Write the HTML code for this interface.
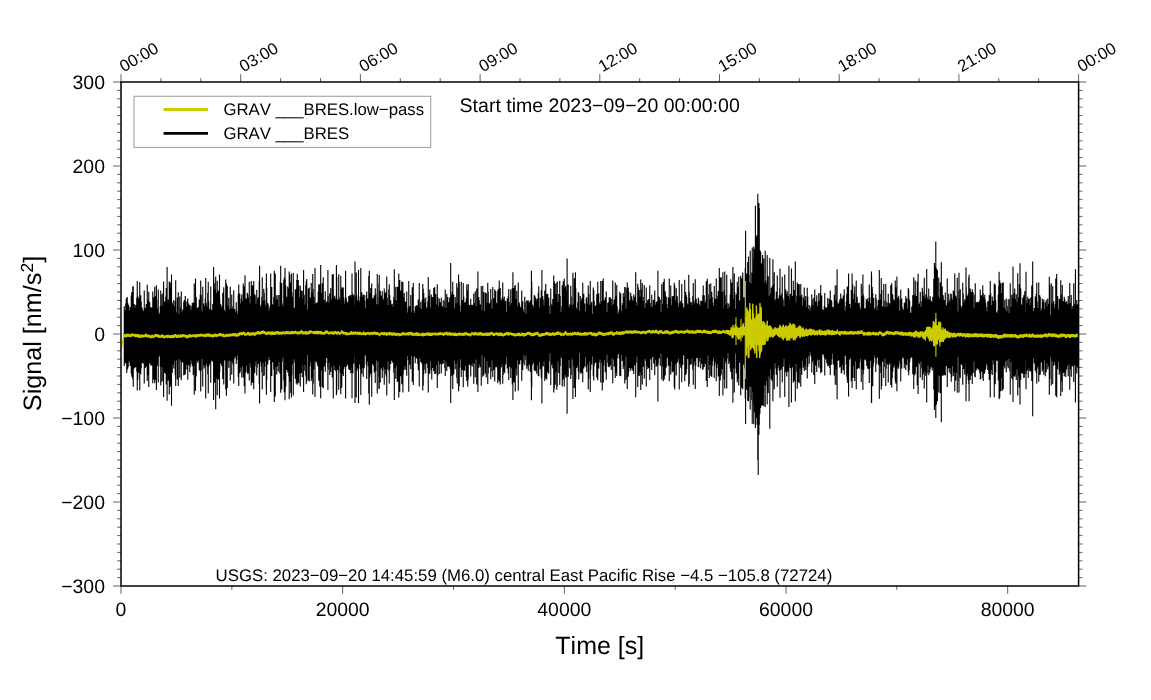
<!DOCTYPE html>
<html lang="en"><head><meta charset="utf-8"><title>GRAV BRES signal</title>
<style>
html,body{margin:0;padding:0;background:#fff;}
body{width:1151px;height:700px;overflow:hidden;}
svg{display:block;}
text{font-kerning:none;text-rendering:geometricPrecision;}
</style></head>
<body>
<svg width="1151" height="700" viewBox="0 0 1151 700" font-family='"Liberation Sans", sans-serif' fill="#000">
<rect x="0" y="0" width="1151" height="700" fill="#fff"/>
<path d="M123.70 306.2h1.1V366.1h-1.1zM124.20 311.4h1.1V362.2h-1.1zM124.70 310.6h1.1V359.1h-1.1zM125.20 303.5h1.1V363.5h-1.1zM125.70 298.8h1.1V361.5h-1.1zM126.20 298.0h1.1V373.1h-1.1zM126.70 297.1h1.1V369.7h-1.1zM127.20 302.9h1.1V368.5h-1.1zM127.70 304.4h1.1V366.8h-1.1zM128.20 305.4h1.1V361.0h-1.1zM128.70 316.6h1.1V357.2h-1.1zM129.20 310.5h1.1V362.8h-1.1zM129.70 307.1h1.1V366.1h-1.1zM130.20 316.5h1.1V352.1h-1.1zM130.70 295.6h1.1V373.6h-1.1zM131.20 291.9h1.1V376.7h-1.1zM131.70 307.0h1.1V362.8h-1.1zM132.20 286.2h1.1V379.3h-1.1zM132.70 286.5h1.1V386.8h-1.1zM133.20 304.9h1.1V366.9h-1.1zM133.70 303.9h1.1V368.5h-1.1zM134.20 314.3h1.1V356.0h-1.1zM134.70 307.5h1.1V367.5h-1.1zM135.20 305.1h1.1V367.0h-1.1zM135.70 304.7h1.1V358.3h-1.1zM136.20 297.4h1.1V371.7h-1.1zM136.70 281.0h1.1V390.4h-1.1zM137.20 295.9h1.1V379.7h-1.1zM137.70 310.4h1.1V360.6h-1.1zM138.20 298.0h1.1V372.9h-1.1zM138.70 304.3h1.1V365.5h-1.1zM139.20 282.2h1.1V390.2h-1.1zM139.70 314.0h1.1V357.0h-1.1zM140.20 295.3h1.1V374.3h-1.1zM140.70 301.4h1.1V368.2h-1.1zM141.20 315.4h1.1V358.0h-1.1zM141.70 307.7h1.1V363.0h-1.1zM142.20 314.6h1.1V354.1h-1.1zM142.70 310.4h1.1V363.6h-1.1zM143.20 312.4h1.1V358.3h-1.1zM143.70 290.5h1.1V383.5h-1.1zM144.20 308.4h1.1V365.0h-1.1zM144.70 307.7h1.1V368.1h-1.1zM145.20 315.3h1.1V359.3h-1.1zM145.70 304.0h1.1V366.6h-1.1zM146.20 308.7h1.1V363.2h-1.1zM146.70 284.8h1.1V381.0h-1.1zM147.20 302.7h1.1V375.3h-1.1zM147.70 300.5h1.1V373.4h-1.1zM148.20 291.7h1.1V386.9h-1.1zM148.70 312.0h1.1V359.6h-1.1zM149.20 302.1h1.1V363.3h-1.1zM149.70 316.9h1.1V358.4h-1.1zM150.20 307.0h1.1V365.6h-1.1zM150.70 307.4h1.1V365.4h-1.1zM151.20 308.1h1.1V364.4h-1.1zM151.70 308.9h1.1V365.2h-1.1zM152.20 291.5h1.1V383.2h-1.1zM152.70 303.6h1.1V363.6h-1.1zM153.20 297.2h1.1V379.4h-1.1zM153.70 302.6h1.1V368.0h-1.1zM154.20 286.7h1.1V383.3h-1.1zM154.70 316.4h1.1V359.4h-1.1zM155.20 296.0h1.1V380.1h-1.1zM155.70 308.7h1.1V362.7h-1.1zM156.20 299.4h1.1V366.1h-1.1zM156.70 313.4h1.1V359.4h-1.1zM157.20 308.5h1.1V365.4h-1.1zM157.70 289.4h1.1V382.6h-1.1zM158.20 312.5h1.1V356.9h-1.1zM158.70 315.5h1.1V355.2h-1.1zM159.20 314.1h1.1V355.5h-1.1zM159.70 306.2h1.1V366.8h-1.1zM160.20 290.6h1.1V385.5h-1.1zM160.70 294.4h1.1V382.3h-1.1zM161.20 314.8h1.1V356.0h-1.1zM161.70 305.8h1.1V367.3h-1.1zM162.20 293.4h1.1V381.3h-1.1zM162.70 313.5h1.1V357.7h-1.1zM163.20 307.8h1.1V364.2h-1.1zM163.70 306.1h1.1V372.7h-1.1zM164.20 301.4h1.1V371.7h-1.1zM164.70 302.4h1.1V373.0h-1.1zM165.20 296.7h1.1V374.0h-1.1zM165.70 288.0h1.1V384.5h-1.1zM166.20 313.2h1.1V355.3h-1.1zM166.70 303.7h1.1V368.5h-1.1zM167.20 305.5h1.1V370.5h-1.1zM167.70 299.6h1.1V380.4h-1.1zM168.20 310.0h1.1V365.5h-1.1zM168.70 281.5h1.1V394.6h-1.1zM169.20 301.1h1.1V371.5h-1.1zM169.70 282.4h1.1V386.7h-1.1zM170.20 287.8h1.1V383.8h-1.1zM170.70 316.0h1.1V357.6h-1.1zM171.20 307.9h1.1V362.3h-1.1zM171.70 302.5h1.1V373.0h-1.1zM172.20 304.8h1.1V364.5h-1.1zM172.70 312.9h1.1V355.3h-1.1zM173.20 300.1h1.1V368.6h-1.1zM173.70 306.2h1.1V361.2h-1.1zM174.20 308.4h1.1V360.2h-1.1zM174.70 301.1h1.1V375.3h-1.1zM175.20 306.5h1.1V365.3h-1.1zM175.70 312.6h1.1V360.3h-1.1zM176.20 316.9h1.1V357.7h-1.1zM176.70 297.6h1.1V379.6h-1.1zM177.20 318.1h1.1V353.4h-1.1zM177.70 292.2h1.1V386.0h-1.1zM178.20 314.0h1.1V359.3h-1.1zM178.70 315.0h1.1V357.4h-1.1zM179.20 296.5h1.1V377.7h-1.1zM179.70 307.6h1.1V360.7h-1.1zM180.20 315.1h1.1V355.6h-1.1zM180.70 291.5h1.1V380.3h-1.1zM181.20 311.7h1.1V362.2h-1.1zM181.70 314.6h1.1V356.9h-1.1zM182.20 309.5h1.1V362.5h-1.1zM182.70 313.5h1.1V361.1h-1.1zM183.20 302.0h1.1V375.2h-1.1zM183.70 300.1h1.1V375.0h-1.1zM184.20 304.5h1.1V371.9h-1.1zM184.70 296.1h1.1V374.6h-1.1zM185.20 301.8h1.1V369.5h-1.1zM185.70 315.8h1.1V357.0h-1.1zM186.20 306.6h1.1V364.7h-1.1zM186.70 300.9h1.1V369.4h-1.1zM187.20 298.5h1.1V379.7h-1.1zM187.70 315.8h1.1V355.8h-1.1zM188.20 303.6h1.1V365.2h-1.1zM188.70 316.7h1.1V356.1h-1.1zM189.20 305.2h1.1V372.2h-1.1zM189.70 305.3h1.1V366.7h-1.1zM190.20 313.8h1.1V360.6h-1.1zM190.70 310.0h1.1V360.5h-1.1zM191.20 306.3h1.1V363.7h-1.1zM191.70 302.9h1.1V366.3h-1.1zM192.20 313.1h1.1V358.0h-1.1zM192.70 302.4h1.1V375.1h-1.1zM193.20 314.3h1.1V354.5h-1.1zM193.70 283.5h1.1V394.7h-1.1zM194.20 302.7h1.1V365.1h-1.1zM194.70 304.8h1.1V365.6h-1.1zM195.20 315.2h1.1V357.6h-1.1zM195.70 297.0h1.1V376.4h-1.1zM196.20 310.8h1.1V360.8h-1.1zM196.70 308.1h1.1V358.2h-1.1zM197.20 308.9h1.1V362.8h-1.1zM197.70 307.0h1.1V360.8h-1.1zM198.20 315.7h1.1V360.1h-1.1zM198.70 299.6h1.1V370.2h-1.1zM199.20 301.5h1.1V369.7h-1.1zM199.70 294.4h1.1V371.4h-1.1zM200.20 280.5h1.1V387.4h-1.1zM200.70 294.9h1.1V370.4h-1.1zM201.20 313.6h1.1V359.1h-1.1zM201.70 311.5h1.1V358.4h-1.1zM202.20 286.8h1.1V386.4h-1.1zM202.70 306.1h1.1V362.3h-1.1zM203.20 303.4h1.1V365.5h-1.1zM203.70 305.9h1.1V368.4h-1.1zM204.20 307.4h1.1V360.4h-1.1zM204.70 298.5h1.1V365.3h-1.1zM205.20 315.1h1.1V356.2h-1.1zM205.70 303.0h1.1V363.8h-1.1zM206.20 306.6h1.1V362.6h-1.1zM206.70 306.8h1.1V366.2h-1.1zM207.20 292.8h1.1V374.2h-1.1zM207.70 281.8h1.1V393.3h-1.1zM208.20 301.5h1.1V366.6h-1.1zM208.70 309.4h1.1V364.8h-1.1zM209.20 310.6h1.1V363.1h-1.1zM209.70 308.7h1.1V360.4h-1.1zM210.20 286.6h1.1V382.8h-1.1zM210.70 313.3h1.1V355.3h-1.1zM211.20 310.1h1.1V360.7h-1.1zM211.70 312.3h1.1V360.7h-1.1zM212.20 304.1h1.1V361.7h-1.1zM212.70 313.3h1.1V359.0h-1.1zM213.20 279.3h1.1V383.7h-1.1zM213.70 283.2h1.1V382.6h-1.1zM214.20 289.2h1.1V372.9h-1.1zM214.70 296.2h1.1V382.3h-1.1zM215.20 296.0h1.1V374.5h-1.1zM215.70 292.7h1.1V378.6h-1.1zM216.20 304.9h1.1V363.3h-1.1zM216.70 280.7h1.1V395.2h-1.1zM217.20 305.4h1.1V358.6h-1.1zM217.70 291.0h1.1V379.4h-1.1zM218.20 307.4h1.1V369.0h-1.1zM218.70 289.2h1.1V379.3h-1.1zM219.20 298.2h1.1V372.1h-1.1zM219.70 314.0h1.1V357.7h-1.1zM220.20 304.2h1.1V363.5h-1.1zM220.70 310.2h1.1V360.1h-1.1zM221.20 306.9h1.1V366.0h-1.1zM221.70 305.8h1.1V365.0h-1.1zM222.20 292.8h1.1V379.0h-1.1zM222.70 304.9h1.1V364.3h-1.1zM223.20 287.3h1.1V384.4h-1.1zM223.70 309.8h1.1V360.5h-1.1zM224.20 314.7h1.1V358.5h-1.1zM224.70 311.3h1.1V360.6h-1.1zM225.20 279.4h1.1V389.5h-1.1zM225.70 298.9h1.1V362.4h-1.1zM226.20 298.2h1.1V374.5h-1.1zM226.70 285.8h1.1V388.0h-1.1zM227.20 305.9h1.1V361.3h-1.1zM227.70 309.4h1.1V355.3h-1.1zM228.20 297.8h1.1V367.7h-1.1zM228.70 311.2h1.1V360.6h-1.1zM229.20 309.3h1.1V357.6h-1.1zM229.70 286.8h1.1V380.5h-1.1zM230.20 308.6h1.1V361.4h-1.1zM230.70 312.0h1.1V360.2h-1.1zM231.20 294.5h1.1V374.7h-1.1zM231.70 306.6h1.1V362.3h-1.1zM232.20 308.9h1.1V358.8h-1.1zM232.70 308.7h1.1V364.5h-1.1zM233.20 290.2h1.1V383.5h-1.1zM233.70 309.7h1.1V359.0h-1.1zM234.20 309.1h1.1V356.2h-1.1zM234.70 312.8h1.1V354.3h-1.1zM235.20 312.2h1.1V357.8h-1.1zM235.70 302.2h1.1V364.0h-1.1zM236.20 310.7h1.1V360.0h-1.1zM236.70 313.7h1.1V355.5h-1.1zM237.20 314.3h1.1V354.7h-1.1zM237.70 294.2h1.1V376.7h-1.1zM238.20 284.6h1.1V386.1h-1.1zM238.70 306.9h1.1V358.9h-1.1zM239.20 293.6h1.1V373.2h-1.1zM239.70 303.4h1.1V371.8h-1.1zM240.20 312.9h1.1V352.5h-1.1zM240.70 298.8h1.1V367.4h-1.1zM241.20 294.6h1.1V377.5h-1.1zM241.70 300.9h1.1V366.4h-1.1zM242.20 305.5h1.1V360.0h-1.1zM242.70 283.6h1.1V377.5h-1.1zM243.20 298.8h1.1V370.9h-1.1zM243.70 286.4h1.1V386.2h-1.1zM244.20 305.6h1.1V366.1h-1.1zM244.70 309.3h1.1V358.5h-1.1zM245.20 298.7h1.1V372.7h-1.1zM245.70 298.5h1.1V365.5h-1.1zM246.20 302.7h1.1V365.5h-1.1zM246.70 292.7h1.1V372.1h-1.1zM247.20 294.2h1.1V374.1h-1.1zM247.70 297.2h1.1V373.1h-1.1zM248.20 300.8h1.1V370.3h-1.1zM248.70 281.7h1.1V380.6h-1.1zM249.20 307.4h1.1V363.5h-1.1zM249.70 303.4h1.1V362.6h-1.1zM250.20 296.0h1.1V367.6h-1.1zM250.70 281.0h1.1V385.5h-1.1zM251.20 307.4h1.1V356.2h-1.1zM251.70 285.6h1.1V381.8h-1.1zM252.20 285.7h1.1V383.0h-1.1zM252.70 285.3h1.1V381.0h-1.1zM253.20 280.9h1.1V389.2h-1.1zM253.70 310.9h1.1V355.7h-1.1zM254.20 294.3h1.1V373.0h-1.1zM254.70 295.6h1.1V366.2h-1.1zM255.20 308.6h1.1V358.6h-1.1zM255.70 303.7h1.1V360.9h-1.1zM256.20 289.7h1.1V375.4h-1.1zM256.70 299.2h1.1V367.6h-1.1zM257.20 309.9h1.1V357.6h-1.1zM257.70 297.3h1.1V363.8h-1.1zM258.20 305.5h1.1V357.2h-1.1zM258.70 281.3h1.1V384.1h-1.1zM259.20 305.7h1.1V362.6h-1.1zM259.70 306.7h1.1V361.3h-1.1zM260.20 307.9h1.1V361.3h-1.1zM260.70 304.4h1.1V366.3h-1.1zM261.20 296.7h1.1V372.0h-1.1zM261.70 277.2h1.1V389.5h-1.1zM262.20 300.5h1.1V362.9h-1.1zM262.70 305.9h1.1V358.3h-1.1zM263.20 288.8h1.1V375.9h-1.1zM263.70 292.7h1.1V375.2h-1.1zM264.20 300.6h1.1V366.8h-1.1zM264.70 305.5h1.1V361.2h-1.1zM265.20 309.4h1.1V356.9h-1.1zM265.70 282.3h1.1V387.5h-1.1zM266.20 287.8h1.1V379.8h-1.1zM266.70 306.4h1.1V361.0h-1.1zM267.20 302.9h1.1V364.6h-1.1zM267.70 304.6h1.1V360.4h-1.1zM268.20 312.8h1.1V351.6h-1.1zM268.70 310.6h1.1V357.0h-1.1zM269.20 307.4h1.1V360.1h-1.1zM269.70 305.5h1.1V360.3h-1.1zM270.20 296.1h1.1V368.8h-1.1zM270.70 302.4h1.1V371.0h-1.1zM271.20 286.9h1.1V375.9h-1.1zM271.70 304.9h1.1V360.8h-1.1zM272.20 304.8h1.1V362.2h-1.1zM272.70 304.0h1.1V358.9h-1.1zM273.20 297.1h1.1V369.5h-1.1zM273.70 295.1h1.1V378.0h-1.1zM274.20 296.3h1.1V373.3h-1.1zM274.70 273.5h1.1V396.4h-1.1zM275.20 306.9h1.1V360.8h-1.1zM275.70 299.4h1.1V367.1h-1.1zM276.20 295.2h1.1V374.5h-1.1zM276.70 299.5h1.1V366.0h-1.1zM277.20 303.7h1.1V361.1h-1.1zM277.70 295.0h1.1V371.4h-1.1zM278.20 306.4h1.1V362.0h-1.1zM278.70 309.1h1.1V357.6h-1.1zM279.20 295.1h1.1V373.3h-1.1zM279.70 281.9h1.1V373.7h-1.1zM280.20 304.5h1.1V364.8h-1.1zM280.70 311.9h1.1V358.9h-1.1zM281.20 282.9h1.1V389.6h-1.1zM281.70 303.4h1.1V361.5h-1.1zM282.20 306.1h1.1V357.4h-1.1zM282.70 309.1h1.1V357.3h-1.1zM283.20 280.2h1.1V380.4h-1.1zM283.70 277.5h1.1V392.2h-1.1zM284.20 311.6h1.1V352.9h-1.1zM284.70 279.6h1.1V391.2h-1.1zM285.20 285.5h1.1V386.6h-1.1zM285.70 299.9h1.1V359.1h-1.1zM286.20 296.7h1.1V369.9h-1.1zM286.70 304.1h1.1V359.5h-1.1zM287.20 286.6h1.1V372.5h-1.1zM287.70 308.7h1.1V355.3h-1.1zM288.20 288.3h1.1V376.2h-1.1zM288.70 304.5h1.1V363.9h-1.1zM289.20 274.6h1.1V382.0h-1.1zM289.70 297.4h1.1V371.8h-1.1zM290.20 282.5h1.1V393.0h-1.1zM290.70 292.5h1.1V375.4h-1.1zM291.20 292.4h1.1V375.2h-1.1zM291.70 303.4h1.1V362.0h-1.1zM292.20 296.8h1.1V364.3h-1.1zM292.70 273.0h1.1V395.5h-1.1zM293.20 311.7h1.1V354.4h-1.1zM293.70 307.8h1.1V359.3h-1.1zM294.20 308.7h1.1V362.8h-1.1zM294.70 289.6h1.1V378.8h-1.1zM295.20 295.0h1.1V371.8h-1.1zM295.70 288.7h1.1V383.4h-1.1zM296.20 280.1h1.1V378.0h-1.1zM296.70 273.7h1.1V384.8h-1.1zM297.20 298.0h1.1V365.9h-1.1zM297.70 279.9h1.1V381.8h-1.1zM298.20 285.2h1.1V383.2h-1.1zM298.70 306.9h1.1V357.4h-1.1zM299.20 297.5h1.1V373.7h-1.1zM299.70 285.8h1.1V386.4h-1.1zM300.20 302.0h1.1V365.4h-1.1zM300.70 290.4h1.1V373.0h-1.1zM301.20 298.5h1.1V368.6h-1.1zM301.70 291.1h1.1V377.3h-1.1zM302.20 298.2h1.1V363.1h-1.1zM302.70 300.9h1.1V365.1h-1.1zM303.20 298.6h1.1V368.6h-1.1zM303.70 294.9h1.1V370.8h-1.1zM304.20 304.6h1.1V364.6h-1.1zM304.70 307.1h1.1V360.8h-1.1zM305.20 285.3h1.1V375.6h-1.1zM305.70 281.2h1.1V384.2h-1.1zM306.20 278.9h1.1V381.4h-1.1zM306.70 310.9h1.1V355.1h-1.1zM307.20 309.4h1.1V353.3h-1.1zM307.70 288.6h1.1V380.2h-1.1zM308.20 310.5h1.1V355.1h-1.1zM308.70 287.4h1.1V381.6h-1.1zM309.20 297.8h1.1V366.3h-1.1zM309.70 297.6h1.1V362.0h-1.1zM310.20 308.3h1.1V360.6h-1.1zM310.70 282.9h1.1V380.9h-1.1zM311.20 292.2h1.1V378.1h-1.1zM311.70 300.1h1.1V366.0h-1.1zM312.20 274.1h1.1V394.6h-1.1zM312.70 288.9h1.1V383.8h-1.1zM313.20 296.8h1.1V369.2h-1.1zM313.70 307.3h1.1V361.0h-1.1zM314.20 304.0h1.1V356.6h-1.1zM314.70 305.8h1.1V361.4h-1.1zM315.20 304.0h1.1V360.2h-1.1zM315.70 302.9h1.1V361.7h-1.1zM316.20 306.5h1.1V358.5h-1.1zM316.70 302.3h1.1V363.7h-1.1zM317.20 303.5h1.1V366.3h-1.1zM317.70 291.8h1.1V365.7h-1.1zM318.20 284.4h1.1V380.8h-1.1zM318.70 304.0h1.1V359.0h-1.1zM319.20 284.2h1.1V386.4h-1.1zM319.70 308.7h1.1V355.4h-1.1zM320.20 300.2h1.1V366.4h-1.1zM320.70 292.9h1.1V370.7h-1.1zM321.20 309.4h1.1V357.3h-1.1zM321.70 283.3h1.1V386.9h-1.1zM322.20 298.3h1.1V365.6h-1.1zM322.70 277.2h1.1V388.3h-1.1zM323.20 310.6h1.1V351.5h-1.1zM323.70 299.7h1.1V366.6h-1.1zM324.20 305.2h1.1V362.5h-1.1zM324.70 291.2h1.1V371.8h-1.1zM325.20 305.1h1.1V363.3h-1.1zM325.70 303.0h1.1V356.2h-1.1zM326.20 301.5h1.1V358.1h-1.1zM326.70 310.1h1.1V352.2h-1.1zM327.20 296.3h1.1V367.4h-1.1zM327.70 295.7h1.1V369.8h-1.1zM328.20 302.8h1.1V362.5h-1.1zM328.70 306.3h1.1V359.0h-1.1zM329.20 293.2h1.1V375.1h-1.1zM329.70 302.3h1.1V361.8h-1.1zM330.20 287.9h1.1V372.0h-1.1zM330.70 299.3h1.1V362.1h-1.1zM331.20 304.5h1.1V367.0h-1.1zM331.70 274.4h1.1V377.5h-1.1zM332.20 303.7h1.1V361.5h-1.1zM332.70 273.9h1.1V398.6h-1.1zM333.20 310.5h1.1V356.2h-1.1zM333.70 297.4h1.1V365.4h-1.1zM334.20 295.7h1.1V370.0h-1.1zM334.70 303.6h1.1V364.7h-1.1zM335.20 298.8h1.1V371.1h-1.1zM335.70 303.8h1.1V359.4h-1.1zM336.20 276.8h1.1V393.2h-1.1zM336.70 299.7h1.1V367.0h-1.1zM337.20 299.6h1.1V369.9h-1.1zM337.70 309.6h1.1V359.5h-1.1zM338.20 274.2h1.1V389.7h-1.1zM338.70 297.1h1.1V363.6h-1.1zM339.20 301.5h1.1V365.7h-1.1zM339.70 299.5h1.1V372.4h-1.1zM340.20 275.7h1.1V394.2h-1.1zM340.70 300.5h1.1V366.2h-1.1zM341.20 288.8h1.1V387.8h-1.1zM341.70 287.2h1.1V374.1h-1.1zM342.20 307.9h1.1V360.4h-1.1zM342.70 287.4h1.1V376.1h-1.1zM343.20 297.2h1.1V369.1h-1.1zM343.70 304.4h1.1V362.0h-1.1zM344.20 303.4h1.1V367.1h-1.1zM344.70 299.6h1.1V363.3h-1.1zM345.20 305.7h1.1V359.0h-1.1zM345.70 297.5h1.1V363.0h-1.1zM346.20 301.3h1.1V366.4h-1.1zM346.70 306.1h1.1V358.8h-1.1zM347.20 302.8h1.1V364.7h-1.1zM347.70 301.9h1.1V360.9h-1.1zM348.20 295.9h1.1V369.0h-1.1zM348.70 299.8h1.1V369.9h-1.1zM349.20 295.6h1.1V370.0h-1.1zM349.70 304.4h1.1V363.7h-1.1zM350.20 295.1h1.1V373.2h-1.1zM350.70 297.6h1.1V367.4h-1.1zM351.20 304.6h1.1V357.3h-1.1zM351.70 298.6h1.1V371.2h-1.1zM352.20 293.8h1.1V373.3h-1.1zM352.70 306.5h1.1V362.6h-1.1zM353.20 295.2h1.1V363.6h-1.1zM353.70 307.1h1.1V355.1h-1.1zM354.20 305.3h1.1V355.2h-1.1zM354.70 297.2h1.1V366.1h-1.1zM355.20 303.8h1.1V365.8h-1.1zM355.70 272.6h1.1V397.4h-1.1zM356.20 295.5h1.1V370.9h-1.1zM356.70 307.6h1.1V359.3h-1.1zM357.20 300.4h1.1V368.6h-1.1zM357.70 300.0h1.1V365.6h-1.1zM358.20 302.7h1.1V365.1h-1.1zM358.70 303.0h1.1V364.0h-1.1zM359.20 300.6h1.1V358.9h-1.1zM359.70 296.5h1.1V368.7h-1.1zM360.20 286.6h1.1V386.5h-1.1zM360.70 292.3h1.1V372.8h-1.1zM361.20 292.3h1.1V373.8h-1.1zM361.70 296.8h1.1V367.7h-1.1zM362.20 312.6h1.1V353.2h-1.1zM362.70 294.5h1.1V376.7h-1.1zM363.20 297.3h1.1V368.5h-1.1zM363.70 295.1h1.1V367.8h-1.1zM364.20 300.6h1.1V356.0h-1.1zM364.70 310.7h1.1V354.8h-1.1zM365.20 308.6h1.1V353.4h-1.1zM365.70 295.3h1.1V364.6h-1.1zM366.20 291.4h1.1V378.9h-1.1zM366.70 308.5h1.1V360.2h-1.1zM367.20 298.6h1.1V361.6h-1.1zM367.70 303.4h1.1V366.2h-1.1zM368.20 276.1h1.1V393.5h-1.1zM368.70 308.0h1.1V357.0h-1.1zM369.20 293.2h1.1V376.8h-1.1zM369.70 298.7h1.1V362.7h-1.1zM370.20 287.9h1.1V373.7h-1.1zM370.70 296.7h1.1V365.1h-1.1zM371.20 306.9h1.1V357.3h-1.1zM371.70 306.9h1.1V362.6h-1.1zM372.20 298.2h1.1V364.2h-1.1zM372.70 305.3h1.1V358.6h-1.1zM373.20 297.8h1.1V365.9h-1.1zM373.70 295.3h1.1V372.6h-1.1zM374.20 300.0h1.1V366.1h-1.1zM374.70 288.2h1.1V382.9h-1.1zM375.20 293.5h1.1V370.9h-1.1zM375.70 304.0h1.1V359.5h-1.1zM376.20 305.4h1.1V360.5h-1.1zM376.70 274.0h1.1V393.5h-1.1zM377.20 304.6h1.1V360.0h-1.1zM377.70 306.7h1.1V361.5h-1.1zM378.20 297.6h1.1V376.4h-1.1zM378.70 274.9h1.1V389.1h-1.1zM379.20 303.5h1.1V364.0h-1.1zM379.70 290.7h1.1V382.5h-1.1zM380.20 302.6h1.1V362.8h-1.1zM380.70 295.6h1.1V368.6h-1.1zM381.20 302.5h1.1V361.6h-1.1zM381.70 291.3h1.1V377.9h-1.1zM382.20 298.5h1.1V370.8h-1.1zM382.70 299.7h1.1V367.3h-1.1zM383.20 302.3h1.1V365.3h-1.1zM383.70 288.5h1.1V384.8h-1.1zM384.20 311.6h1.1V357.9h-1.1zM384.70 292.7h1.1V369.1h-1.1zM385.20 293.5h1.1V374.1h-1.1zM385.70 291.6h1.1V376.4h-1.1zM386.20 276.4h1.1V395.4h-1.1zM386.70 297.7h1.1V369.2h-1.1zM387.20 306.2h1.1V359.8h-1.1zM387.70 304.9h1.1V361.5h-1.1zM388.20 289.2h1.1V370.6h-1.1zM388.70 284.2h1.1V383.4h-1.1zM389.20 295.2h1.1V370.3h-1.1zM389.70 306.6h1.1V362.5h-1.1zM390.20 300.3h1.1V364.1h-1.1zM390.70 311.2h1.1V355.7h-1.1zM391.20 304.5h1.1V360.5h-1.1zM391.70 303.7h1.1V360.9h-1.1zM392.20 307.1h1.1V362.7h-1.1zM392.70 306.8h1.1V359.8h-1.1zM393.20 297.0h1.1V372.6h-1.1zM393.70 294.0h1.1V369.4h-1.1zM394.20 299.9h1.1V368.3h-1.1zM394.70 301.3h1.1V361.1h-1.1zM395.20 286.8h1.1V378.8h-1.1zM395.70 300.4h1.1V365.9h-1.1zM396.20 305.1h1.1V364.5h-1.1zM396.70 286.7h1.1V382.0h-1.1zM397.20 287.1h1.1V379.9h-1.1zM397.70 290.4h1.1V381.1h-1.1zM398.20 296.2h1.1V372.4h-1.1zM398.70 313.9h1.1V355.3h-1.1zM399.20 280.1h1.1V391.9h-1.1zM399.70 291.8h1.1V375.9h-1.1zM400.20 290.5h1.1V376.2h-1.1zM400.70 302.4h1.1V366.7h-1.1zM401.20 281.5h1.1V384.3h-1.1zM401.70 302.2h1.1V367.0h-1.1zM402.20 291.0h1.1V381.8h-1.1zM402.70 296.9h1.1V374.2h-1.1zM403.20 309.6h1.1V357.5h-1.1zM403.70 293.0h1.1V369.7h-1.1zM404.20 306.3h1.1V361.7h-1.1zM404.70 301.6h1.1V366.1h-1.1zM405.20 301.9h1.1V369.8h-1.1zM405.70 310.5h1.1V356.8h-1.1zM406.20 291.5h1.1V375.7h-1.1zM406.70 313.4h1.1V356.3h-1.1zM407.20 312.5h1.1V354.6h-1.1zM407.70 307.4h1.1V360.3h-1.1zM408.20 280.9h1.1V391.7h-1.1zM408.70 307.3h1.1V364.9h-1.1zM409.20 305.9h1.1V364.1h-1.1zM409.70 309.4h1.1V359.4h-1.1zM410.20 295.0h1.1V369.3h-1.1zM410.70 314.4h1.1V354.9h-1.1zM411.20 312.3h1.1V356.0h-1.1zM411.70 287.3h1.1V381.8h-1.1zM412.20 298.9h1.1V367.5h-1.1zM412.70 283.0h1.1V385.1h-1.1zM413.20 310.8h1.1V357.0h-1.1zM413.70 313.1h1.1V355.9h-1.1zM414.20 315.6h1.1V355.3h-1.1zM414.70 306.1h1.1V363.2h-1.1zM415.20 307.3h1.1V356.5h-1.1zM415.70 307.6h1.1V358.1h-1.1zM416.20 305.1h1.1V358.5h-1.1zM416.70 314.4h1.1V352.4h-1.1zM417.20 306.0h1.1V363.9h-1.1zM417.70 299.5h1.1V370.2h-1.1zM418.20 304.0h1.1V362.5h-1.1zM418.70 283.0h1.1V386.6h-1.1zM419.20 308.5h1.1V357.9h-1.1zM419.70 307.9h1.1V356.8h-1.1zM420.20 301.8h1.1V362.0h-1.1zM420.70 311.4h1.1V355.1h-1.1zM421.20 309.1h1.1V362.9h-1.1zM421.70 299.5h1.1V364.2h-1.1zM422.20 284.1h1.1V390.4h-1.1zM422.70 288.7h1.1V385.7h-1.1zM423.20 293.0h1.1V374.5h-1.1zM423.70 298.4h1.1V369.8h-1.1zM424.20 302.4h1.1V364.0h-1.1zM424.70 313.5h1.1V354.9h-1.1zM425.20 297.5h1.1V373.3h-1.1zM425.70 312.5h1.1V355.9h-1.1zM426.20 307.5h1.1V363.5h-1.1zM426.70 311.3h1.1V359.8h-1.1zM427.20 301.2h1.1V368.3h-1.1zM427.70 277.0h1.1V392.5h-1.1zM428.20 309.6h1.1V358.7h-1.1zM428.70 296.1h1.1V373.5h-1.1zM429.20 289.5h1.1V373.8h-1.1zM429.70 309.8h1.1V359.6h-1.1zM430.20 307.6h1.1V361.3h-1.1zM430.70 294.6h1.1V370.3h-1.1zM431.20 296.9h1.1V379.4h-1.1zM431.70 313.8h1.1V352.6h-1.1zM432.20 297.0h1.1V368.1h-1.1zM432.70 307.9h1.1V361.2h-1.1zM433.20 288.1h1.1V371.2h-1.1zM433.70 310.2h1.1V356.3h-1.1zM434.20 287.0h1.1V374.0h-1.1zM434.70 303.8h1.1V361.6h-1.1zM435.20 294.1h1.1V373.7h-1.1zM435.70 304.5h1.1V364.8h-1.1zM436.20 311.0h1.1V359.9h-1.1zM436.70 284.3h1.1V387.9h-1.1zM437.20 297.1h1.1V375.6h-1.1zM437.70 309.0h1.1V360.8h-1.1zM438.20 305.7h1.1V361.3h-1.1zM438.70 298.4h1.1V373.9h-1.1zM439.20 306.2h1.1V360.8h-1.1zM439.70 302.3h1.1V364.1h-1.1zM440.20 311.4h1.1V360.5h-1.1zM440.70 297.7h1.1V373.5h-1.1zM441.20 308.8h1.1V360.1h-1.1zM441.70 306.3h1.1V364.2h-1.1zM442.20 308.5h1.1V362.1h-1.1zM442.70 300.2h1.1V363.5h-1.1zM443.20 308.2h1.1V359.9h-1.1zM443.70 307.6h1.1V357.6h-1.1zM444.20 300.5h1.1V368.3h-1.1zM444.70 289.4h1.1V375.9h-1.1zM445.20 314.5h1.1V356.6h-1.1zM445.70 307.9h1.1V361.8h-1.1zM446.20 293.9h1.1V371.1h-1.1zM446.70 308.3h1.1V360.0h-1.1zM447.20 297.1h1.1V366.7h-1.1zM447.70 302.6h1.1V365.9h-1.1zM448.20 311.3h1.1V358.3h-1.1zM448.70 302.1h1.1V367.1h-1.1zM449.20 297.4h1.1V363.8h-1.1zM449.70 298.0h1.1V369.0h-1.1zM450.20 283.4h1.1V387.4h-1.1zM450.70 294.7h1.1V374.8h-1.1zM451.20 296.8h1.1V375.8h-1.1zM451.70 291.7h1.1V371.1h-1.1zM452.20 281.8h1.1V389.1h-1.1zM452.70 302.5h1.1V363.7h-1.1zM453.20 294.4h1.1V374.6h-1.1zM453.70 308.4h1.1V361.0h-1.1zM454.20 313.1h1.1V356.8h-1.1zM454.70 296.9h1.1V369.2h-1.1zM455.20 304.8h1.1V364.1h-1.1zM455.70 303.5h1.1V361.3h-1.1zM456.20 283.2h1.1V377.8h-1.1zM456.70 287.4h1.1V383.4h-1.1zM457.20 312.0h1.1V356.3h-1.1zM457.70 302.7h1.1V360.5h-1.1zM458.20 309.8h1.1V356.5h-1.1zM458.70 282.3h1.1V386.0h-1.1zM459.20 305.3h1.1V367.5h-1.1zM459.70 311.5h1.1V359.3h-1.1zM460.20 311.5h1.1V358.7h-1.1zM460.70 281.7h1.1V377.1h-1.1zM461.20 303.8h1.1V364.2h-1.1zM461.70 300.0h1.1V369.9h-1.1zM462.20 308.9h1.1V360.5h-1.1zM462.70 283.1h1.1V387.3h-1.1zM463.20 296.6h1.1V370.8h-1.1zM463.70 310.0h1.1V362.6h-1.1zM464.20 302.6h1.1V370.4h-1.1zM464.70 302.2h1.1V365.8h-1.1zM465.20 314.7h1.1V351.8h-1.1zM465.70 298.5h1.1V377.1h-1.1zM466.20 284.4h1.1V381.0h-1.1zM466.70 300.7h1.1V371.7h-1.1zM467.20 290.2h1.1V386.5h-1.1zM467.70 284.0h1.1V379.5h-1.1zM468.20 304.7h1.1V364.4h-1.1zM468.70 314.2h1.1V353.5h-1.1zM469.20 305.0h1.1V364.9h-1.1zM469.70 306.6h1.1V362.7h-1.1zM470.20 298.7h1.1V376.5h-1.1zM470.70 304.8h1.1V365.3h-1.1zM471.20 308.7h1.1V359.6h-1.1zM471.70 305.2h1.1V366.4h-1.1zM472.20 309.7h1.1V358.0h-1.1zM472.70 304.4h1.1V362.8h-1.1zM473.20 293.6h1.1V383.8h-1.1zM473.70 305.1h1.1V360.9h-1.1zM474.20 303.1h1.1V363.7h-1.1zM474.70 291.2h1.1V377.2h-1.1zM475.20 305.9h1.1V359.4h-1.1zM475.70 310.2h1.1V353.1h-1.1zM476.20 288.5h1.1V384.6h-1.1zM476.70 304.3h1.1V361.7h-1.1zM477.20 308.4h1.1V358.6h-1.1zM477.70 301.0h1.1V366.1h-1.1zM478.20 296.9h1.1V367.8h-1.1zM478.70 300.1h1.1V364.5h-1.1zM479.20 304.2h1.1V364.6h-1.1zM479.70 307.4h1.1V367.3h-1.1zM480.20 304.6h1.1V365.9h-1.1zM480.70 286.1h1.1V385.7h-1.1zM481.20 310.2h1.1V354.6h-1.1zM481.70 313.2h1.1V355.2h-1.1zM482.20 285.7h1.1V376.8h-1.1zM482.70 296.1h1.1V375.2h-1.1zM483.20 291.9h1.1V375.4h-1.1zM483.70 311.1h1.1V357.4h-1.1zM484.20 312.7h1.1V355.5h-1.1zM484.70 292.4h1.1V373.4h-1.1zM485.20 299.0h1.1V363.9h-1.1zM485.70 293.2h1.1V377.4h-1.1zM486.20 302.7h1.1V361.3h-1.1zM486.70 313.1h1.1V352.8h-1.1zM487.20 282.8h1.1V383.9h-1.1zM487.70 291.7h1.1V373.6h-1.1zM488.20 303.1h1.1V366.0h-1.1zM488.70 303.9h1.1V367.5h-1.1zM489.20 308.6h1.1V360.4h-1.1zM489.70 301.9h1.1V367.0h-1.1zM490.20 289.1h1.1V379.2h-1.1zM490.70 299.6h1.1V371.6h-1.1zM491.20 315.2h1.1V349.7h-1.1zM491.70 308.7h1.1V360.5h-1.1zM492.20 286.9h1.1V377.0h-1.1zM492.70 309.9h1.1V355.4h-1.1zM493.20 298.3h1.1V370.0h-1.1zM493.70 309.3h1.1V358.1h-1.1zM494.20 289.3h1.1V381.5h-1.1zM494.70 311.7h1.1V359.2h-1.1zM495.20 291.0h1.1V367.2h-1.1zM495.70 302.4h1.1V365.7h-1.1zM496.20 306.9h1.1V366.8h-1.1zM496.70 303.6h1.1V367.4h-1.1zM497.20 291.2h1.1V383.2h-1.1zM497.70 289.0h1.1V379.7h-1.1zM498.20 297.4h1.1V365.6h-1.1zM498.70 280.5h1.1V381.6h-1.1zM499.20 294.7h1.1V376.4h-1.1zM499.70 288.1h1.1V384.6h-1.1zM500.20 302.6h1.1V363.4h-1.1zM500.70 299.7h1.1V367.6h-1.1zM501.20 305.2h1.1V363.9h-1.1zM501.70 297.3h1.1V364.5h-1.1zM502.20 282.5h1.1V383.8h-1.1zM502.70 299.0h1.1V375.0h-1.1zM503.20 308.8h1.1V365.1h-1.1zM503.70 296.4h1.1V371.5h-1.1zM504.20 301.1h1.1V373.3h-1.1zM504.70 308.8h1.1V358.2h-1.1zM505.20 301.1h1.1V364.5h-1.1zM505.70 312.1h1.1V351.3h-1.1zM506.20 313.0h1.1V357.4h-1.1zM506.70 298.4h1.1V368.6h-1.1zM507.20 308.5h1.1V365.9h-1.1zM507.70 296.3h1.1V373.3h-1.1zM508.20 289.0h1.1V380.1h-1.1zM508.70 302.0h1.1V360.5h-1.1zM509.20 305.6h1.1V367.0h-1.1zM509.70 313.6h1.1V354.0h-1.1zM510.20 289.6h1.1V377.9h-1.1zM510.70 308.0h1.1V354.5h-1.1zM511.20 302.9h1.1V368.3h-1.1zM511.70 288.3h1.1V384.5h-1.1zM512.20 314.9h1.1V352.3h-1.1zM512.70 307.7h1.1V360.9h-1.1zM513.20 288.0h1.1V382.0h-1.1zM513.70 312.6h1.1V357.8h-1.1zM514.20 285.9h1.1V382.7h-1.1zM514.70 285.1h1.1V391.5h-1.1zM515.20 299.0h1.1V368.4h-1.1zM515.70 313.7h1.1V353.4h-1.1zM516.20 290.8h1.1V375.4h-1.1zM516.70 313.0h1.1V350.0h-1.1zM517.20 305.8h1.1V360.2h-1.1zM517.70 282.5h1.1V390.8h-1.1zM518.20 304.8h1.1V364.2h-1.1zM518.70 302.5h1.1V363.2h-1.1zM519.20 304.7h1.1V364.6h-1.1zM519.70 308.5h1.1V354.6h-1.1zM520.20 307.3h1.1V360.2h-1.1zM520.70 315.7h1.1V353.6h-1.1zM521.20 290.6h1.1V380.7h-1.1zM521.70 310.1h1.1V356.3h-1.1zM522.20 301.3h1.1V370.0h-1.1zM522.70 309.4h1.1V363.6h-1.1zM523.20 312.2h1.1V355.1h-1.1zM523.70 315.5h1.1V354.2h-1.1zM524.20 296.8h1.1V365.6h-1.1zM524.70 302.3h1.1V359.7h-1.1zM525.20 313.8h1.1V355.7h-1.1zM525.70 313.9h1.1V354.4h-1.1zM526.20 300.2h1.1V368.7h-1.1zM526.70 313.7h1.1V353.3h-1.1zM527.20 301.1h1.1V366.1h-1.1zM527.70 300.2h1.1V370.7h-1.1zM528.20 308.9h1.1V363.7h-1.1zM528.70 302.8h1.1V364.8h-1.1zM529.20 302.2h1.1V360.7h-1.1zM529.70 300.6h1.1V371.9h-1.1zM530.20 301.8h1.1V368.3h-1.1zM530.70 289.1h1.1V382.1h-1.1zM531.20 281.8h1.1V387.3h-1.1zM531.70 308.8h1.1V365.3h-1.1zM532.20 304.7h1.1V363.7h-1.1zM532.70 307.2h1.1V362.5h-1.1zM533.20 309.8h1.1V353.9h-1.1zM533.70 295.3h1.1V370.6h-1.1zM534.20 295.5h1.1V370.0h-1.1zM534.70 297.2h1.1V370.8h-1.1zM535.20 298.1h1.1V371.3h-1.1zM535.70 308.9h1.1V357.4h-1.1zM536.20 300.2h1.1V373.8h-1.1zM536.70 298.7h1.1V365.6h-1.1zM537.20 306.4h1.1V360.6h-1.1zM537.70 292.9h1.1V376.2h-1.1zM538.20 286.2h1.1V375.9h-1.1zM538.70 307.7h1.1V362.0h-1.1zM539.20 308.8h1.1V360.9h-1.1zM539.70 297.9h1.1V369.2h-1.1zM540.20 306.4h1.1V367.1h-1.1zM540.70 290.5h1.1V377.9h-1.1zM541.20 301.1h1.1V368.0h-1.1zM541.70 305.0h1.1V360.4h-1.1zM542.20 296.3h1.1V365.5h-1.1zM542.70 299.5h1.1V366.4h-1.1zM543.20 305.7h1.1V361.5h-1.1zM543.70 305.3h1.1V361.5h-1.1zM544.20 290.4h1.1V381.1h-1.1zM544.70 307.9h1.1V354.0h-1.1zM545.20 284.0h1.1V378.4h-1.1zM545.70 314.7h1.1V349.9h-1.1zM546.20 293.9h1.1V379.5h-1.1zM546.70 296.3h1.1V369.6h-1.1zM547.20 293.8h1.1V372.2h-1.1zM547.70 315.4h1.1V350.7h-1.1zM548.20 297.5h1.1V373.8h-1.1zM548.70 305.6h1.1V361.3h-1.1zM549.20 315.4h1.1V353.2h-1.1zM549.70 314.0h1.1V350.0h-1.1zM550.20 288.4h1.1V384.9h-1.1zM550.70 303.8h1.1V365.4h-1.1zM551.20 305.5h1.1V364.1h-1.1zM551.70 307.8h1.1V363.6h-1.1zM552.20 299.1h1.1V368.3h-1.1zM552.70 298.9h1.1V368.6h-1.1zM553.20 275.4h1.1V392.4h-1.1zM553.70 281.1h1.1V389.1h-1.1zM554.20 304.4h1.1V362.9h-1.1zM554.70 283.5h1.1V384.7h-1.1zM555.20 293.9h1.1V372.0h-1.1zM555.70 299.0h1.1V371.5h-1.1zM556.20 282.9h1.1V389.8h-1.1zM556.70 281.4h1.1V386.6h-1.1zM557.20 313.2h1.1V358.8h-1.1zM557.70 301.9h1.1V361.2h-1.1zM558.20 294.1h1.1V373.0h-1.1zM558.70 307.9h1.1V364.7h-1.1zM559.20 280.7h1.1V385.0h-1.1zM559.70 295.9h1.1V366.0h-1.1zM560.20 314.4h1.1V356.5h-1.1zM560.70 312.3h1.1V357.0h-1.1zM561.20 306.3h1.1V358.4h-1.1zM561.70 285.2h1.1V386.6h-1.1zM562.20 298.6h1.1V365.8h-1.1zM562.70 281.3h1.1V379.5h-1.1zM563.20 294.8h1.1V372.6h-1.1zM563.70 278.8h1.1V386.5h-1.1zM564.20 287.7h1.1V375.1h-1.1zM564.70 306.3h1.1V360.7h-1.1zM565.20 285.8h1.1V377.3h-1.1zM565.70 290.5h1.1V377.7h-1.1zM566.20 312.4h1.1V355.6h-1.1zM566.70 299.1h1.1V371.5h-1.1zM567.20 299.0h1.1V367.4h-1.1zM567.70 284.6h1.1V376.7h-1.1zM568.20 309.5h1.1V355.2h-1.1zM568.70 307.2h1.1V360.1h-1.1zM569.20 304.4h1.1V368.2h-1.1zM569.70 305.9h1.1V364.5h-1.1zM570.20 285.8h1.1V379.0h-1.1zM570.70 296.5h1.1V374.9h-1.1zM571.20 305.1h1.1V359.5h-1.1zM571.70 314.1h1.1V356.0h-1.1zM572.20 310.1h1.1V357.0h-1.1zM572.70 306.4h1.1V363.7h-1.1zM573.20 303.8h1.1V366.1h-1.1zM573.70 278.2h1.1V388.1h-1.1zM574.20 312.1h1.1V356.6h-1.1zM574.70 282.5h1.1V379.8h-1.1zM575.20 288.0h1.1V379.5h-1.1zM575.70 307.5h1.1V363.3h-1.1zM576.20 310.0h1.1V367.9h-1.1zM576.70 309.4h1.1V360.4h-1.1zM577.20 302.3h1.1V366.0h-1.1zM577.70 292.2h1.1V371.5h-1.1zM578.20 292.8h1.1V379.5h-1.1zM578.70 311.1h1.1V353.1h-1.1zM579.20 314.9h1.1V351.5h-1.1zM579.70 295.9h1.1V373.4h-1.1zM580.20 311.5h1.1V353.8h-1.1zM580.70 301.0h1.1V372.0h-1.1zM581.20 298.3h1.1V373.5h-1.1zM581.70 303.5h1.1V362.7h-1.1zM582.20 282.7h1.1V382.3h-1.1zM582.70 302.0h1.1V361.6h-1.1zM583.20 293.7h1.1V368.5h-1.1zM583.70 307.9h1.1V361.2h-1.1zM584.20 303.4h1.1V366.4h-1.1zM584.70 311.5h1.1V357.2h-1.1zM585.20 312.3h1.1V356.3h-1.1zM585.70 298.5h1.1V367.4h-1.1zM586.20 297.3h1.1V371.9h-1.1zM586.70 313.6h1.1V351.3h-1.1zM587.20 303.4h1.1V364.5h-1.1zM587.70 285.5h1.1V389.5h-1.1zM588.20 294.3h1.1V378.8h-1.1zM588.70 315.3h1.1V351.7h-1.1zM589.20 305.0h1.1V361.9h-1.1zM589.70 280.9h1.1V392.1h-1.1zM590.20 303.6h1.1V369.7h-1.1zM590.70 303.4h1.1V359.8h-1.1zM591.20 301.8h1.1V364.6h-1.1zM591.70 314.0h1.1V354.3h-1.1zM592.20 313.9h1.1V356.4h-1.1zM592.70 287.6h1.1V376.3h-1.1zM593.20 290.1h1.1V380.4h-1.1zM593.70 301.1h1.1V365.7h-1.1zM594.20 310.5h1.1V362.8h-1.1zM594.70 306.0h1.1V363.0h-1.1zM595.20 308.2h1.1V359.2h-1.1zM595.70 304.8h1.1V361.9h-1.1zM596.20 294.3h1.1V377.5h-1.1zM596.70 310.0h1.1V359.3h-1.1zM597.20 281.7h1.1V380.2h-1.1zM597.70 307.5h1.1V360.7h-1.1zM598.20 293.3h1.1V368.8h-1.1zM598.70 302.6h1.1V362.6h-1.1zM599.20 314.7h1.1V350.4h-1.1zM599.70 304.0h1.1V359.5h-1.1zM600.20 281.1h1.1V382.6h-1.1zM600.70 301.5h1.1V362.8h-1.1zM601.20 306.7h1.1V362.3h-1.1zM601.70 281.1h1.1V390.5h-1.1zM602.20 296.0h1.1V370.4h-1.1zM602.70 278.6h1.1V382.5h-1.1zM603.20 304.0h1.1V365.8h-1.1zM603.70 300.2h1.1V360.3h-1.1zM604.20 303.2h1.1V358.2h-1.1zM604.70 297.6h1.1V372.3h-1.1zM605.20 306.5h1.1V362.6h-1.1zM605.70 291.6h1.1V379.7h-1.1zM606.20 312.2h1.1V354.6h-1.1zM606.70 314.0h1.1V350.8h-1.1zM607.20 302.9h1.1V362.7h-1.1zM607.70 302.3h1.1V366.7h-1.1zM608.20 311.0h1.1V354.5h-1.1zM608.70 297.3h1.1V367.2h-1.1zM609.20 309.4h1.1V354.4h-1.1zM609.70 297.2h1.1V365.6h-1.1zM610.20 307.7h1.1V361.6h-1.1zM610.70 298.7h1.1V369.9h-1.1zM611.20 305.2h1.1V358.6h-1.1zM611.70 312.8h1.1V352.0h-1.1zM612.20 280.6h1.1V383.3h-1.1zM612.70 309.4h1.1V358.9h-1.1zM613.20 303.8h1.1V359.6h-1.1zM613.70 299.9h1.1V366.4h-1.1zM614.20 299.1h1.1V360.4h-1.1zM614.70 282.5h1.1V377.9h-1.1zM615.20 296.0h1.1V372.4h-1.1zM615.70 305.6h1.1V363.8h-1.1zM616.20 285.1h1.1V376.0h-1.1zM616.70 306.6h1.1V358.2h-1.1zM617.20 313.9h1.1V354.5h-1.1zM617.70 314.5h1.1V351.6h-1.1zM618.20 311.5h1.1V354.0h-1.1zM618.70 309.3h1.1V358.7h-1.1zM619.20 291.8h1.1V375.7h-1.1zM619.70 314.1h1.1V354.7h-1.1zM620.20 293.4h1.1V376.3h-1.1zM620.70 310.9h1.1V354.3h-1.1zM621.20 311.1h1.1V355.1h-1.1zM621.70 305.3h1.1V360.9h-1.1zM622.20 303.1h1.1V359.0h-1.1zM622.70 293.1h1.1V369.1h-1.1zM623.20 303.0h1.1V366.0h-1.1zM623.70 296.8h1.1V363.4h-1.1zM624.20 286.9h1.1V383.6h-1.1zM624.70 287.1h1.1V380.0h-1.1zM625.20 308.7h1.1V356.8h-1.1zM625.70 312.0h1.1V354.8h-1.1zM626.20 288.3h1.1V379.4h-1.1zM626.70 282.6h1.1V388.9h-1.1zM627.20 295.6h1.1V368.3h-1.1zM627.70 287.4h1.1V376.8h-1.1zM628.20 291.8h1.1V372.3h-1.1zM628.70 303.8h1.1V366.8h-1.1zM629.20 300.2h1.1V367.9h-1.1zM629.70 300.4h1.1V361.6h-1.1zM630.20 292.8h1.1V370.7h-1.1zM630.70 305.5h1.1V357.4h-1.1zM631.20 296.2h1.1V368.6h-1.1zM631.70 299.4h1.1V365.9h-1.1zM632.20 301.0h1.1V370.8h-1.1zM632.70 310.9h1.1V349.8h-1.1zM633.20 294.5h1.1V373.9h-1.1zM633.70 306.5h1.1V359.2h-1.1zM634.20 296.7h1.1V365.2h-1.1zM634.70 310.6h1.1V353.6h-1.1zM635.20 299.2h1.1V363.6h-1.1zM635.70 301.9h1.1V362.7h-1.1zM636.20 310.1h1.1V356.6h-1.1zM636.70 305.5h1.1V354.9h-1.1zM637.20 283.8h1.1V387.0h-1.1zM637.70 287.3h1.1V375.4h-1.1zM638.20 313.7h1.1V353.6h-1.1zM638.70 290.0h1.1V376.1h-1.1zM639.20 296.5h1.1V372.4h-1.1zM639.70 312.7h1.1V352.9h-1.1zM640.20 279.4h1.1V390.1h-1.1zM640.70 289.4h1.1V375.2h-1.1zM641.20 293.0h1.1V368.1h-1.1zM641.70 283.1h1.1V384.6h-1.1zM642.20 301.1h1.1V365.5h-1.1zM642.70 303.7h1.1V366.7h-1.1zM643.20 297.0h1.1V360.3h-1.1zM643.70 284.9h1.1V378.5h-1.1zM644.20 308.3h1.1V358.7h-1.1zM644.70 308.1h1.1V353.3h-1.1zM645.20 303.0h1.1V360.7h-1.1zM645.70 287.4h1.1V386.5h-1.1zM646.20 302.6h1.1V365.9h-1.1zM646.70 304.6h1.1V357.4h-1.1zM647.20 300.1h1.1V368.9h-1.1zM647.70 309.7h1.1V357.3h-1.1zM648.20 299.1h1.1V367.9h-1.1zM648.70 302.0h1.1V363.5h-1.1zM649.20 285.3h1.1V380.1h-1.1zM649.70 303.1h1.1V358.7h-1.1zM650.20 307.3h1.1V355.7h-1.1zM650.70 306.7h1.1V359.6h-1.1zM651.20 294.8h1.1V370.0h-1.1zM651.70 313.7h1.1V354.1h-1.1zM652.20 306.4h1.1V357.0h-1.1zM652.70 299.9h1.1V356.6h-1.1zM653.20 299.7h1.1V363.5h-1.1zM653.70 307.6h1.1V357.4h-1.1zM654.20 290.5h1.1V375.3h-1.1zM654.70 304.8h1.1V359.7h-1.1zM655.20 306.4h1.1V355.8h-1.1zM655.70 302.1h1.1V366.7h-1.1zM656.20 310.0h1.1V352.9h-1.1zM656.70 301.0h1.1V365.4h-1.1zM657.20 300.9h1.1V362.4h-1.1zM657.70 295.9h1.1V364.0h-1.1zM658.20 311.2h1.1V356.0h-1.1zM658.70 296.9h1.1V358.5h-1.1zM659.20 305.9h1.1V356.1h-1.1zM659.70 299.6h1.1V366.1h-1.1zM660.20 311.8h1.1V351.7h-1.1zM660.70 312.2h1.1V353.5h-1.1zM661.20 284.3h1.1V379.4h-1.1zM661.70 313.7h1.1V349.7h-1.1zM662.20 303.9h1.1V366.4h-1.1zM662.70 281.9h1.1V381.2h-1.1zM663.20 301.7h1.1V362.1h-1.1zM663.70 278.8h1.1V379.6h-1.1zM664.20 302.7h1.1V359.3h-1.1zM664.70 291.2h1.1V375.6h-1.1zM665.20 298.4h1.1V367.7h-1.1zM665.70 296.5h1.1V367.6h-1.1zM666.20 303.9h1.1V358.3h-1.1zM666.70 308.6h1.1V357.2h-1.1zM667.20 311.8h1.1V348.9h-1.1zM667.70 297.3h1.1V365.7h-1.1zM668.20 303.1h1.1V360.3h-1.1zM668.70 278.4h1.1V381.2h-1.1zM669.20 298.5h1.1V366.1h-1.1zM669.70 312.6h1.1V350.3h-1.1zM670.20 285.6h1.1V374.8h-1.1zM670.70 309.8h1.1V358.3h-1.1zM671.20 305.0h1.1V361.2h-1.1zM671.70 296.2h1.1V372.3h-1.1zM672.20 307.5h1.1V356.8h-1.1zM672.70 296.0h1.1V371.6h-1.1zM673.20 310.5h1.1V355.3h-1.1zM673.70 282.7h1.1V387.3h-1.1zM674.20 285.6h1.1V389.5h-1.1zM674.70 306.9h1.1V356.6h-1.1zM675.20 300.5h1.1V364.4h-1.1zM675.70 288.2h1.1V375.6h-1.1zM676.20 302.0h1.1V351.5h-1.1zM676.70 296.2h1.1V362.8h-1.1zM677.20 302.7h1.1V361.4h-1.1zM677.70 306.8h1.1V358.8h-1.1zM678.20 309.4h1.1V353.3h-1.1zM678.70 280.1h1.1V389.6h-1.1zM679.20 303.6h1.1V364.1h-1.1zM679.70 313.3h1.1V349.9h-1.1zM680.20 300.7h1.1V367.7h-1.1zM680.70 307.3h1.1V361.1h-1.1zM681.20 284.0h1.1V382.2h-1.1zM681.70 309.9h1.1V352.0h-1.1zM682.20 303.3h1.1V364.9h-1.1zM682.70 310.2h1.1V353.4h-1.1zM683.20 307.6h1.1V355.5h-1.1zM683.70 309.7h1.1V354.5h-1.1zM684.20 279.8h1.1V381.3h-1.1zM684.70 306.2h1.1V360.5h-1.1zM685.20 292.0h1.1V375.1h-1.1zM685.70 295.1h1.1V373.3h-1.1zM686.20 297.1h1.1V368.9h-1.1zM686.70 303.5h1.1V358.1h-1.1zM687.20 304.4h1.1V359.1h-1.1zM687.70 311.5h1.1V354.2h-1.1zM688.20 274.8h1.1V386.7h-1.1zM688.70 291.7h1.1V383.9h-1.1zM689.20 298.1h1.1V364.9h-1.1zM689.70 308.3h1.1V354.2h-1.1zM690.20 302.6h1.1V364.6h-1.1zM690.70 301.9h1.1V364.2h-1.1zM691.20 307.0h1.1V356.7h-1.1zM691.70 304.9h1.1V358.3h-1.1zM692.20 295.9h1.1V369.4h-1.1zM692.70 283.1h1.1V384.8h-1.1zM693.20 300.7h1.1V365.4h-1.1zM693.70 310.0h1.1V353.2h-1.1zM694.20 303.6h1.1V361.4h-1.1zM694.70 279.3h1.1V389.0h-1.1zM695.20 300.2h1.1V366.0h-1.1zM695.70 298.7h1.1V354.8h-1.1zM696.20 303.2h1.1V358.0h-1.1zM696.70 303.4h1.1V358.2h-1.1zM697.20 312.1h1.1V351.2h-1.1zM697.70 297.4h1.1V366.9h-1.1zM698.20 299.4h1.1V367.3h-1.1zM698.70 304.0h1.1V361.5h-1.1zM699.20 310.1h1.1V353.3h-1.1zM699.70 305.9h1.1V357.8h-1.1zM700.20 300.8h1.1V368.4h-1.1zM700.70 308.0h1.1V354.2h-1.1zM701.20 300.9h1.1V363.7h-1.1zM701.70 312.2h1.1V354.5h-1.1zM702.20 295.0h1.1V369.9h-1.1zM702.70 285.4h1.1V368.8h-1.1zM703.20 308.1h1.1V356.4h-1.1zM703.70 295.3h1.1V367.0h-1.1zM704.20 308.4h1.1V354.9h-1.1zM704.70 303.0h1.1V363.6h-1.1zM705.20 300.8h1.1V364.3h-1.1zM705.70 281.3h1.1V381.0h-1.1zM706.20 306.5h1.1V359.4h-1.1zM706.70 278.8h1.1V387.1h-1.1zM707.20 311.7h1.1V352.1h-1.1zM707.70 308.8h1.1V355.5h-1.1zM708.20 294.6h1.1V370.0h-1.1zM708.70 283.9h1.1V378.1h-1.1zM709.20 308.8h1.1V353.7h-1.1zM709.70 299.3h1.1V364.4h-1.1zM710.20 283.2h1.1V375.8h-1.1zM710.70 299.6h1.1V360.0h-1.1zM711.20 291.8h1.1V377.0h-1.1zM711.70 297.1h1.1V365.7h-1.1zM712.20 302.6h1.1V361.0h-1.1zM712.70 309.3h1.1V354.0h-1.1zM713.20 305.9h1.1V357.8h-1.1zM713.70 285.9h1.1V377.9h-1.1zM714.20 298.5h1.1V365.4h-1.1zM714.70 298.8h1.1V362.2h-1.1zM715.20 311.7h1.1V353.8h-1.1zM715.70 278.6h1.1V381.3h-1.1zM716.20 299.0h1.1V368.1h-1.1zM716.70 308.8h1.1V350.4h-1.1zM717.20 295.8h1.1V364.0h-1.1zM717.70 291.1h1.1V376.6h-1.1zM718.20 299.6h1.1V363.5h-1.1zM718.70 293.1h1.1V367.9h-1.1zM719.20 309.0h1.1V355.5h-1.1zM719.70 277.4h1.1V380.6h-1.1zM720.20 288.1h1.1V375.8h-1.1zM720.70 277.3h1.1V374.2h-1.1zM721.20 303.2h1.1V359.1h-1.1zM721.70 292.1h1.1V369.0h-1.1zM722.20 308.1h1.1V356.8h-1.1zM722.70 307.9h1.1V357.8h-1.1zM723.20 309.4h1.1V352.3h-1.1zM723.70 290.6h1.1V379.6h-1.1zM724.20 271.5h1.1V388.5h-1.1zM724.70 295.3h1.1V360.9h-1.1zM725.20 310.4h1.1V348.1h-1.1zM725.70 304.4h1.1V363.4h-1.1zM726.20 274.7h1.1V388.5h-1.1zM726.70 303.1h1.1V358.7h-1.1zM727.20 308.7h1.1V353.2h-1.1zM727.70 310.6h1.1V350.7h-1.1zM728.20 303.5h1.1V364.0h-1.1zM728.70 307.2h1.1V356.3h-1.1zM729.20 306.5h1.1V361.7h-1.1zM729.70 294.6h1.1V368.4h-1.1zM730.20 279.2h1.1V372.1h-1.1zM730.70 303.8h1.1V362.3h-1.1zM731.20 282.7h1.1V379.2h-1.1zM731.70 295.4h1.1V367.4h-1.1zM732.20 311.8h1.1V355.1h-1.1zM732.70 299.9h1.1V363.0h-1.1zM733.20 299.1h1.1V368.4h-1.1zM733.70 310.0h1.1V353.7h-1.1zM734.20 292.2h1.1V368.6h-1.1zM734.70 311.9h1.1V352.8h-1.1zM735.20 308.7h1.1V353.6h-1.1zM735.70 294.9h1.1V373.4h-1.1zM736.20 293.8h1.1V373.6h-1.1zM736.70 281.8h1.1V382.3h-1.1zM737.20 308.8h1.1V356.3h-1.1zM737.70 287.2h1.1V379.1h-1.1zM738.20 276.8h1.1V385.5h-1.1zM738.70 307.9h1.1V358.0h-1.1zM739.20 300.6h1.1V362.3h-1.1zM739.70 302.3h1.1V363.1h-1.1zM740.20 303.5h1.1V357.4h-1.1zM740.70 286.3h1.1V378.1h-1.1zM741.20 278.2h1.1V387.7h-1.1zM741.70 297.4h1.1V363.7h-1.1zM742.20 272.5h1.1V389.3h-1.1zM742.70 297.0h1.1V365.0h-1.1zM743.20 301.6h1.1V363.7h-1.1zM743.70 298.4h1.1V362.1h-1.1zM744.20 297.0h1.1V368.6h-1.1zM744.70 268.0h1.1V398.5h-1.1zM745.20 285.6h1.1V381.9h-1.1zM745.70 300.1h1.1V357.5h-1.1zM746.20 273.5h1.1V389.8h-1.1zM746.70 288.9h1.1V379.0h-1.1zM747.20 262.1h1.1V400.7h-1.1zM747.70 294.4h1.1V368.7h-1.1zM748.20 274.7h1.1V397.2h-1.1zM748.70 282.7h1.1V383.2h-1.1zM749.20 282.5h1.1V386.4h-1.1zM749.70 285.5h1.1V381.1h-1.1zM750.20 283.8h1.1V382.7h-1.1zM750.70 283.4h1.1V387.0h-1.1zM751.20 272.5h1.1V400.1h-1.1zM751.70 247.4h1.1V423.7h-1.1zM752.20 279.0h1.1V392.3h-1.1zM752.70 273.1h1.1V379.2h-1.1zM753.20 246.6h1.1V424.3h-1.1zM753.70 273.2h1.1V386.2h-1.1zM754.20 249.1h1.1V412.2h-1.1zM754.70 252.6h1.1V409.0h-1.1zM755.20 266.8h1.1V402.5h-1.1zM755.70 270.1h1.1V404.2h-1.1zM756.20 278.0h1.1V385.2h-1.1zM756.70 263.0h1.1V384.8h-1.1zM757.20 254.2h1.1V396.7h-1.1zM757.70 276.5h1.1V386.0h-1.1zM758.20 273.8h1.1V387.7h-1.1zM758.70 269.3h1.1V394.3h-1.1zM759.20 269.0h1.1V390.9h-1.1zM759.70 268.0h1.1V400.3h-1.1zM760.20 264.4h1.1V398.8h-1.1zM760.70 263.7h1.1V399.1h-1.1zM761.20 263.2h1.1V405.4h-1.1zM761.70 277.0h1.1V391.0h-1.1zM762.20 268.7h1.1V392.9h-1.1zM762.70 292.5h1.1V379.3h-1.1zM763.20 294.0h1.1V374.1h-1.1zM763.70 282.6h1.1V385.1h-1.1zM764.20 284.1h1.1V377.0h-1.1zM764.70 294.2h1.1V370.2h-1.1zM765.20 280.6h1.1V385.8h-1.1zM765.70 286.7h1.1V380.9h-1.1zM766.20 284.0h1.1V380.8h-1.1zM766.70 291.3h1.1V367.6h-1.1zM767.20 301.2h1.1V367.4h-1.1zM767.70 276.2h1.1V393.1h-1.1zM768.20 302.1h1.1V363.8h-1.1zM768.70 295.7h1.1V376.6h-1.1zM769.20 295.7h1.1V370.0h-1.1zM769.70 293.6h1.1V368.9h-1.1zM770.20 301.5h1.1V363.0h-1.1zM770.70 287.7h1.1V379.4h-1.1zM771.20 297.8h1.1V370.1h-1.1zM771.70 286.1h1.1V381.3h-1.1zM772.20 292.7h1.1V375.0h-1.1zM772.70 299.0h1.1V371.2h-1.1zM773.20 284.3h1.1V374.6h-1.1zM773.70 272.3h1.1V389.2h-1.1zM774.20 300.5h1.1V360.4h-1.1zM774.70 302.9h1.1V363.2h-1.1zM775.20 299.1h1.1V368.6h-1.1zM775.70 291.8h1.1V374.8h-1.1zM776.20 299.6h1.1V361.5h-1.1zM776.70 275.4h1.1V386.8h-1.1zM777.20 299.6h1.1V367.9h-1.1zM777.70 298.9h1.1V365.5h-1.1zM778.20 298.2h1.1V365.3h-1.1zM778.70 295.2h1.1V370.7h-1.1zM779.20 287.8h1.1V369.6h-1.1zM779.70 300.8h1.1V365.4h-1.1zM780.20 295.6h1.1V370.0h-1.1zM780.70 302.5h1.1V364.7h-1.1zM781.20 293.2h1.1V368.6h-1.1zM781.70 276.8h1.1V382.3h-1.1zM782.20 297.7h1.1V364.4h-1.1zM782.70 299.9h1.1V366.8h-1.1zM783.20 306.7h1.1V358.4h-1.1zM783.70 306.3h1.1V358.5h-1.1zM784.20 274.6h1.1V397.0h-1.1zM784.70 303.2h1.1V364.6h-1.1zM785.20 289.5h1.1V372.2h-1.1zM785.70 301.3h1.1V361.6h-1.1zM786.20 294.1h1.1V376.5h-1.1zM786.70 291.3h1.1V371.0h-1.1zM787.20 296.1h1.1V371.6h-1.1zM787.70 296.7h1.1V371.8h-1.1zM788.20 301.7h1.1V361.2h-1.1zM788.70 299.6h1.1V364.2h-1.1zM789.20 301.3h1.1V363.6h-1.1zM789.70 294.1h1.1V368.1h-1.1zM790.20 301.1h1.1V361.8h-1.1zM790.70 293.0h1.1V370.7h-1.1zM791.20 299.5h1.1V367.8h-1.1zM791.70 295.8h1.1V367.1h-1.1zM792.20 298.7h1.1V364.3h-1.1zM792.70 280.8h1.1V382.7h-1.1zM793.20 297.4h1.1V362.6h-1.1zM793.70 290.1h1.1V381.0h-1.1zM794.20 295.0h1.1V361.6h-1.1zM794.70 278.2h1.1V382.5h-1.1zM795.20 302.4h1.1V364.0h-1.1zM795.70 307.3h1.1V353.4h-1.1zM796.20 295.8h1.1V372.0h-1.1zM796.70 282.6h1.1V388.7h-1.1zM797.20 302.2h1.1V359.9h-1.1zM797.70 284.1h1.1V382.1h-1.1zM798.20 308.3h1.1V353.9h-1.1zM798.70 284.2h1.1V383.3h-1.1zM799.20 296.6h1.1V368.6h-1.1zM799.70 299.8h1.1V365.4h-1.1zM800.20 283.9h1.1V386.8h-1.1zM800.70 295.7h1.1V370.4h-1.1zM801.20 294.7h1.1V374.8h-1.1zM801.70 305.5h1.1V361.0h-1.1zM802.20 312.6h1.1V349.6h-1.1zM802.70 297.6h1.1V367.8h-1.1zM803.20 307.1h1.1V358.8h-1.1zM803.70 287.6h1.1V371.1h-1.1zM804.20 303.3h1.1V365.5h-1.1zM804.70 300.2h1.1V364.8h-1.1zM805.20 296.1h1.1V370.1h-1.1zM805.70 308.5h1.1V354.0h-1.1zM806.20 307.1h1.1V358.0h-1.1zM806.70 287.7h1.1V378.6h-1.1zM807.20 296.7h1.1V367.1h-1.1zM807.70 309.0h1.1V356.2h-1.1zM808.20 314.1h1.1V347.0h-1.1zM808.70 304.9h1.1V363.8h-1.1zM809.20 310.6h1.1V352.0h-1.1zM809.70 314.0h1.1V346.9h-1.1zM810.20 307.6h1.1V355.0h-1.1zM810.70 305.8h1.1V357.0h-1.1zM811.20 294.5h1.1V372.5h-1.1zM811.70 299.6h1.1V362.4h-1.1zM812.20 305.3h1.1V360.4h-1.1zM812.70 312.2h1.1V350.8h-1.1zM813.20 297.7h1.1V375.1h-1.1zM813.70 300.3h1.1V366.5h-1.1zM814.20 289.5h1.1V384.0h-1.1zM814.70 306.9h1.1V355.5h-1.1zM815.20 301.6h1.1V365.6h-1.1zM815.70 308.9h1.1V354.0h-1.1zM816.20 295.2h1.1V372.0h-1.1zM816.70 306.3h1.1V360.6h-1.1zM817.20 306.5h1.1V354.4h-1.1zM817.70 302.1h1.1V359.6h-1.1zM818.20 292.9h1.1V367.6h-1.1zM818.70 300.6h1.1V359.7h-1.1zM819.20 308.0h1.1V355.4h-1.1zM819.70 293.0h1.1V368.4h-1.1zM820.20 285.1h1.1V373.2h-1.1zM820.70 302.1h1.1V363.4h-1.1zM821.20 295.4h1.1V371.9h-1.1zM821.70 309.0h1.1V353.1h-1.1zM822.20 309.5h1.1V354.4h-1.1zM822.70 313.1h1.1V352.2h-1.1zM823.20 310.1h1.1V354.6h-1.1zM823.70 306.1h1.1V357.3h-1.1zM824.20 292.9h1.1V375.6h-1.1zM824.70 309.7h1.1V357.5h-1.1zM825.20 307.7h1.1V359.3h-1.1zM825.70 308.1h1.1V356.7h-1.1zM826.20 307.2h1.1V363.2h-1.1zM826.70 309.9h1.1V359.4h-1.1zM827.20 297.8h1.1V366.2h-1.1zM827.70 306.7h1.1V358.4h-1.1zM828.20 303.4h1.1V365.5h-1.1zM828.70 299.0h1.1V363.7h-1.1zM829.20 298.7h1.1V368.1h-1.1zM829.70 290.6h1.1V375.0h-1.1zM830.20 302.9h1.1V360.4h-1.1zM830.70 299.9h1.1V364.8h-1.1zM831.20 301.3h1.1V359.2h-1.1zM831.70 310.5h1.1V353.7h-1.1zM832.20 306.9h1.1V353.4h-1.1zM832.70 306.9h1.1V364.5h-1.1zM833.20 314.5h1.1V353.7h-1.1zM833.70 294.8h1.1V375.4h-1.1zM834.20 303.3h1.1V363.1h-1.1zM834.70 285.5h1.1V384.8h-1.1zM835.20 300.6h1.1V369.1h-1.1zM835.70 313.4h1.1V354.1h-1.1zM836.20 285.0h1.1V385.0h-1.1zM836.70 308.4h1.1V354.9h-1.1zM837.20 311.0h1.1V355.6h-1.1zM837.70 303.4h1.1V360.7h-1.1zM838.20 309.2h1.1V353.7h-1.1zM838.70 301.9h1.1V360.3h-1.1zM839.20 299.6h1.1V367.5h-1.1zM839.70 303.3h1.1V365.5h-1.1zM840.20 293.6h1.1V366.7h-1.1zM840.70 298.3h1.1V373.5h-1.1zM841.20 298.2h1.1V372.6h-1.1zM841.70 314.8h1.1V350.3h-1.1zM842.20 299.1h1.1V365.1h-1.1zM842.70 295.4h1.1V370.1h-1.1zM843.20 313.2h1.1V354.5h-1.1zM843.70 289.3h1.1V374.8h-1.1zM844.20 314.1h1.1V349.6h-1.1zM844.70 310.8h1.1V355.8h-1.1zM845.20 306.4h1.1V354.0h-1.1zM845.70 301.6h1.1V364.6h-1.1zM846.20 293.9h1.1V376.5h-1.1zM846.70 286.7h1.1V380.5h-1.1zM847.20 286.6h1.1V382.9h-1.1zM847.70 299.6h1.1V367.9h-1.1zM848.20 301.2h1.1V367.1h-1.1zM848.70 312.7h1.1V353.5h-1.1zM849.20 304.1h1.1V359.4h-1.1zM849.70 314.9h1.1V350.6h-1.1zM850.20 307.9h1.1V357.8h-1.1zM850.70 290.1h1.1V381.2h-1.1zM851.20 304.4h1.1V366.2h-1.1zM851.70 291.2h1.1V376.5h-1.1zM852.20 284.4h1.1V377.9h-1.1zM852.70 313.5h1.1V351.1h-1.1zM853.20 299.3h1.1V366.1h-1.1zM853.70 293.5h1.1V378.1h-1.1zM854.20 286.5h1.1V381.1h-1.1zM854.70 306.6h1.1V359.3h-1.1zM855.20 302.6h1.1V361.2h-1.1zM855.70 280.5h1.1V389.2h-1.1zM856.20 307.9h1.1V358.9h-1.1zM856.70 296.7h1.1V369.2h-1.1zM857.20 309.1h1.1V357.3h-1.1zM857.70 303.2h1.1V368.0h-1.1zM858.20 304.2h1.1V361.5h-1.1zM858.70 302.5h1.1V368.8h-1.1zM859.20 307.2h1.1V362.3h-1.1zM859.70 315.1h1.1V351.3h-1.1zM860.20 309.5h1.1V358.8h-1.1zM860.70 283.7h1.1V382.0h-1.1zM861.20 303.4h1.1V360.4h-1.1zM861.70 295.9h1.1V369.4h-1.1zM862.20 286.7h1.1V375.4h-1.1zM862.70 294.0h1.1V374.3h-1.1zM863.20 296.5h1.1V369.9h-1.1zM863.70 314.1h1.1V353.3h-1.1zM864.20 308.6h1.1V359.8h-1.1zM864.70 311.0h1.1V348.4h-1.1zM865.20 307.7h1.1V359.4h-1.1zM865.70 298.9h1.1V361.3h-1.1zM866.20 301.0h1.1V366.0h-1.1zM866.70 302.2h1.1V361.4h-1.1zM867.20 298.2h1.1V368.6h-1.1zM867.70 301.8h1.1V368.9h-1.1zM868.20 309.1h1.1V353.2h-1.1zM868.70 284.5h1.1V382.9h-1.1zM869.20 297.6h1.1V368.6h-1.1zM869.70 303.2h1.1V357.6h-1.1zM870.20 307.3h1.1V360.9h-1.1zM870.70 306.7h1.1V359.9h-1.1zM871.20 308.3h1.1V357.0h-1.1zM871.70 287.0h1.1V376.2h-1.1zM872.20 293.1h1.1V386.3h-1.1zM872.70 298.8h1.1V366.5h-1.1zM873.20 297.9h1.1V362.4h-1.1zM873.70 308.9h1.1V355.4h-1.1zM874.20 315.4h1.1V350.6h-1.1zM874.70 307.5h1.1V358.1h-1.1zM875.20 294.3h1.1V372.0h-1.1zM875.70 298.4h1.1V364.6h-1.1zM876.20 309.9h1.1V358.1h-1.1zM876.70 313.1h1.1V352.6h-1.1zM877.20 305.7h1.1V357.3h-1.1zM877.70 300.0h1.1V364.0h-1.1zM878.20 300.2h1.1V365.3h-1.1zM878.70 306.5h1.1V362.5h-1.1zM879.20 311.5h1.1V356.3h-1.1zM879.70 299.8h1.1V365.8h-1.1zM880.20 293.9h1.1V372.9h-1.1zM880.70 278.1h1.1V389.6h-1.1zM881.20 289.8h1.1V385.9h-1.1zM881.70 311.2h1.1V354.2h-1.1zM882.20 306.4h1.1V361.7h-1.1zM882.70 315.4h1.1V352.8h-1.1zM883.20 284.0h1.1V378.1h-1.1zM883.70 300.5h1.1V366.9h-1.1zM884.20 309.8h1.1V357.5h-1.1zM884.70 307.2h1.1V358.4h-1.1zM885.20 283.7h1.1V386.0h-1.1zM885.70 301.5h1.1V368.7h-1.1zM886.20 306.7h1.1V363.2h-1.1zM886.70 307.8h1.1V358.7h-1.1zM887.20 302.8h1.1V364.7h-1.1zM887.70 293.8h1.1V382.4h-1.1zM888.20 314.7h1.1V350.2h-1.1zM888.70 303.1h1.1V364.5h-1.1zM889.20 308.4h1.1V360.8h-1.1zM889.70 304.6h1.1V362.8h-1.1zM890.20 285.2h1.1V385.0h-1.1zM890.70 296.4h1.1V371.3h-1.1zM891.20 283.3h1.1V387.5h-1.1zM891.70 294.0h1.1V378.1h-1.1zM892.20 294.7h1.1V371.5h-1.1zM892.70 301.9h1.1V365.8h-1.1zM893.20 299.4h1.1V367.5h-1.1zM893.70 300.6h1.1V365.2h-1.1zM894.20 310.4h1.1V356.6h-1.1zM894.70 280.4h1.1V380.7h-1.1zM895.20 287.2h1.1V383.4h-1.1zM895.70 310.2h1.1V360.9h-1.1zM896.20 304.7h1.1V367.4h-1.1zM896.70 302.6h1.1V368.5h-1.1zM897.20 297.6h1.1V366.1h-1.1zM897.70 304.8h1.1V366.7h-1.1zM898.20 295.8h1.1V368.7h-1.1zM898.70 311.6h1.1V355.5h-1.1zM899.20 310.7h1.1V360.8h-1.1zM899.70 299.4h1.1V364.2h-1.1zM900.20 289.4h1.1V381.6h-1.1zM900.70 312.2h1.1V355.7h-1.1zM901.20 298.4h1.1V368.4h-1.1zM901.70 306.9h1.1V358.0h-1.1zM902.20 311.2h1.1V357.0h-1.1zM902.70 309.5h1.1V356.7h-1.1zM903.20 311.2h1.1V358.5h-1.1zM903.70 302.9h1.1V368.2h-1.1zM904.20 310.5h1.1V353.6h-1.1zM904.70 302.1h1.1V363.7h-1.1zM905.20 296.2h1.1V370.0h-1.1zM905.70 302.4h1.1V361.3h-1.1zM906.20 298.4h1.1V365.1h-1.1zM906.70 308.3h1.1V359.3h-1.1zM907.20 309.8h1.1V357.1h-1.1zM907.70 288.0h1.1V371.9h-1.1zM908.20 289.9h1.1V375.2h-1.1zM908.70 299.3h1.1V370.0h-1.1zM909.20 301.3h1.1V362.3h-1.1zM909.70 313.3h1.1V352.4h-1.1zM910.20 312.7h1.1V358.2h-1.1zM910.70 313.6h1.1V356.7h-1.1zM911.20 306.9h1.1V356.3h-1.1zM911.70 305.7h1.1V358.1h-1.1zM912.20 294.9h1.1V374.3h-1.1zM912.70 298.1h1.1V365.3h-1.1zM913.20 277.3h1.1V389.0h-1.1zM913.70 309.0h1.1V357.6h-1.1zM914.20 294.6h1.1V375.3h-1.1zM914.70 280.5h1.1V373.8h-1.1zM915.20 296.0h1.1V363.4h-1.1zM915.70 296.2h1.1V366.9h-1.1zM916.20 306.3h1.1V364.3h-1.1zM916.70 281.7h1.1V385.3h-1.1zM917.20 292.6h1.1V368.2h-1.1zM917.70 310.6h1.1V358.3h-1.1zM918.20 309.4h1.1V360.1h-1.1zM918.70 304.1h1.1V363.1h-1.1zM919.20 302.4h1.1V364.5h-1.1zM919.70 292.1h1.1V377.6h-1.1zM920.20 310.0h1.1V360.8h-1.1zM920.70 307.0h1.1V361.5h-1.1zM921.20 301.4h1.1V368.4h-1.1zM921.70 287.7h1.1V380.0h-1.1zM922.20 291.6h1.1V374.8h-1.1zM922.70 297.7h1.1V367.0h-1.1zM923.20 296.2h1.1V372.8h-1.1zM923.70 277.8h1.1V388.4h-1.1zM924.20 298.5h1.1V369.0h-1.1zM924.70 299.3h1.1V371.7h-1.1zM925.20 294.6h1.1V375.8h-1.1zM925.70 297.6h1.1V373.8h-1.1zM926.20 295.8h1.1V366.8h-1.1zM926.70 296.9h1.1V373.2h-1.1zM927.20 303.1h1.1V363.7h-1.1zM927.70 299.8h1.1V365.6h-1.1zM928.20 288.5h1.1V375.3h-1.1zM928.70 305.2h1.1V365.8h-1.1zM929.20 299.5h1.1V372.7h-1.1zM929.70 296.2h1.1V369.1h-1.1zM930.20 302.2h1.1V363.7h-1.1zM930.70 300.8h1.1V367.2h-1.1zM931.20 304.2h1.1V362.4h-1.1zM931.70 302.2h1.1V370.4h-1.1zM932.20 296.7h1.1V368.1h-1.1zM932.70 297.6h1.1V367.0h-1.1zM933.20 279.0h1.1V389.6h-1.1zM933.70 295.1h1.1V372.7h-1.1zM934.20 281.6h1.1V386.6h-1.1zM934.70 283.2h1.1V386.5h-1.1zM935.20 269.9h1.1V404.6h-1.1zM935.70 284.8h1.1V380.0h-1.1zM936.20 269.8h1.1V392.2h-1.1zM936.70 292.5h1.1V368.4h-1.1zM937.20 297.5h1.1V374.9h-1.1zM937.70 296.3h1.1V374.8h-1.1zM938.20 277.4h1.1V392.6h-1.1zM938.70 297.9h1.1V375.9h-1.1zM939.20 301.9h1.1V368.3h-1.1zM939.70 282.6h1.1V393.2h-1.1zM940.20 286.3h1.1V385.2h-1.1zM940.70 289.6h1.1V374.5h-1.1zM941.20 295.5h1.1V371.0h-1.1zM941.70 286.5h1.1V375.8h-1.1zM942.20 299.5h1.1V363.4h-1.1zM942.70 295.2h1.1V375.5h-1.1zM943.20 302.8h1.1V368.8h-1.1zM943.70 300.1h1.1V375.0h-1.1zM944.20 304.1h1.1V364.9h-1.1zM944.70 292.5h1.1V375.5h-1.1zM945.20 304.7h1.1V361.0h-1.1zM945.70 305.6h1.1V366.0h-1.1zM946.20 305.4h1.1V364.8h-1.1zM946.70 278.4h1.1V387.0h-1.1zM947.20 311.5h1.1V358.5h-1.1zM947.70 302.4h1.1V368.2h-1.1zM948.20 293.8h1.1V367.6h-1.1zM948.70 299.4h1.1V372.5h-1.1zM949.20 301.4h1.1V368.1h-1.1zM949.70 301.6h1.1V366.3h-1.1zM950.20 293.4h1.1V373.9h-1.1zM950.70 294.0h1.1V381.8h-1.1zM951.20 297.5h1.1V377.1h-1.1zM951.70 307.6h1.1V366.2h-1.1zM952.20 299.9h1.1V365.2h-1.1zM952.70 290.4h1.1V375.9h-1.1zM953.20 300.3h1.1V371.8h-1.1zM953.70 291.5h1.1V372.5h-1.1zM954.20 273.6h1.1V391.2h-1.1zM954.70 313.9h1.1V351.6h-1.1zM955.20 295.8h1.1V380.5h-1.1zM955.70 302.6h1.1V370.0h-1.1zM956.20 297.9h1.1V372.9h-1.1zM956.70 277.8h1.1V392.7h-1.1zM957.20 311.5h1.1V356.9h-1.1zM957.70 312.7h1.1V355.7h-1.1zM958.20 290.7h1.1V381.3h-1.1zM958.70 299.9h1.1V367.0h-1.1zM959.20 298.6h1.1V375.2h-1.1zM959.70 289.3h1.1V377.9h-1.1zM960.20 305.7h1.1V361.1h-1.1zM960.70 308.3h1.1V364.5h-1.1zM961.20 307.9h1.1V361.2h-1.1zM961.70 306.1h1.1V365.0h-1.1zM962.20 282.7h1.1V384.7h-1.1zM962.70 293.5h1.1V366.8h-1.1zM963.20 302.5h1.1V368.9h-1.1zM963.70 306.8h1.1V359.1h-1.1zM964.20 299.2h1.1V374.4h-1.1zM964.70 301.0h1.1V363.5h-1.1zM965.20 310.1h1.1V355.0h-1.1zM965.70 287.3h1.1V384.0h-1.1zM966.20 295.3h1.1V376.2h-1.1zM966.70 296.2h1.1V374.1h-1.1zM967.20 315.2h1.1V352.4h-1.1zM967.70 293.6h1.1V380.0h-1.1zM968.20 277.3h1.1V384.3h-1.1zM968.70 300.2h1.1V368.2h-1.1zM969.20 305.9h1.1V361.9h-1.1zM969.70 288.5h1.1V379.9h-1.1zM970.20 310.3h1.1V362.0h-1.1zM970.70 292.0h1.1V375.5h-1.1zM971.20 307.2h1.1V364.6h-1.1zM971.70 289.3h1.1V384.1h-1.1zM972.20 311.6h1.1V354.7h-1.1zM972.70 292.4h1.1V372.9h-1.1zM973.20 307.8h1.1V361.5h-1.1zM973.70 310.4h1.1V358.6h-1.1zM974.20 295.1h1.1V376.6h-1.1zM974.70 283.2h1.1V377.2h-1.1zM975.20 304.5h1.1V368.2h-1.1zM975.70 302.6h1.1V370.4h-1.1zM976.20 302.2h1.1V367.9h-1.1zM976.70 308.9h1.1V358.0h-1.1zM977.20 301.8h1.1V368.9h-1.1zM977.70 302.6h1.1V366.3h-1.1zM978.20 302.4h1.1V370.2h-1.1zM978.70 301.6h1.1V368.9h-1.1zM979.20 300.3h1.1V373.1h-1.1zM979.70 289.5h1.1V379.3h-1.1zM980.20 296.9h1.1V379.6h-1.1zM980.70 295.7h1.1V366.0h-1.1zM981.20 295.1h1.1V371.8h-1.1zM981.70 309.2h1.1V363.1h-1.1zM982.20 285.2h1.1V378.2h-1.1zM982.70 293.1h1.1V381.1h-1.1zM983.20 303.5h1.1V363.7h-1.1zM983.70 297.6h1.1V373.9h-1.1zM984.20 294.8h1.1V372.6h-1.1zM984.70 299.6h1.1V370.1h-1.1zM985.20 303.0h1.1V368.8h-1.1zM985.70 307.0h1.1V364.0h-1.1zM986.20 315.1h1.1V355.4h-1.1zM986.70 311.3h1.1V365.4h-1.1zM987.20 301.3h1.1V370.1h-1.1zM987.70 301.9h1.1V366.3h-1.1zM988.20 300.9h1.1V373.7h-1.1zM988.70 294.9h1.1V379.9h-1.1zM989.20 314.5h1.1V359.6h-1.1zM989.70 281.1h1.1V397.6h-1.1zM990.20 293.2h1.1V374.2h-1.1zM990.70 306.8h1.1V367.7h-1.1zM991.20 305.1h1.1V369.9h-1.1zM991.70 296.6h1.1V374.9h-1.1zM992.20 313.9h1.1V358.1h-1.1zM992.70 300.8h1.1V360.2h-1.1zM993.20 305.3h1.1V364.5h-1.1zM993.70 283.6h1.1V397.3h-1.1zM994.20 312.4h1.1V354.9h-1.1zM994.70 284.6h1.1V384.2h-1.1zM995.20 300.4h1.1V372.2h-1.1zM995.70 312.3h1.1V360.6h-1.1zM996.20 314.3h1.1V360.8h-1.1zM996.70 312.8h1.1V354.7h-1.1zM997.20 310.7h1.1V361.1h-1.1zM997.70 294.7h1.1V380.4h-1.1zM998.20 285.9h1.1V379.2h-1.1zM998.70 302.0h1.1V369.5h-1.1zM999.20 280.6h1.1V397.8h-1.1zM999.70 314.9h1.1V359.5h-1.1zM1000.20 283.3h1.1V391.2h-1.1zM1000.70 298.3h1.1V363.6h-1.1zM1001.20 293.2h1.1V377.9h-1.1zM1001.70 283.1h1.1V390.7h-1.1zM1002.20 303.2h1.1V367.5h-1.1zM1002.70 282.2h1.1V389.2h-1.1zM1003.20 312.8h1.1V366.1h-1.1zM1003.70 307.6h1.1V363.6h-1.1zM1004.20 299.8h1.1V368.5h-1.1zM1004.70 311.2h1.1V361.2h-1.1zM1005.20 309.8h1.1V361.2h-1.1zM1005.70 298.4h1.1V372.2h-1.1zM1006.20 311.3h1.1V360.3h-1.1zM1006.70 313.8h1.1V359.7h-1.1zM1007.20 306.0h1.1V366.5h-1.1zM1007.70 299.3h1.1V368.2h-1.1zM1008.20 312.9h1.1V358.7h-1.1zM1008.70 314.4h1.1V358.6h-1.1zM1009.20 299.1h1.1V371.0h-1.1zM1009.70 283.3h1.1V394.7h-1.1zM1010.20 312.0h1.1V361.8h-1.1zM1010.70 307.1h1.1V361.9h-1.1zM1011.20 294.8h1.1V378.4h-1.1zM1011.70 304.8h1.1V373.4h-1.1zM1012.20 297.9h1.1V380.0h-1.1zM1012.70 313.5h1.1V358.3h-1.1zM1013.20 299.0h1.1V376.3h-1.1zM1013.70 292.9h1.1V376.2h-1.1zM1014.20 288.5h1.1V376.7h-1.1zM1014.70 299.0h1.1V375.0h-1.1zM1015.20 316.1h1.1V356.4h-1.1zM1015.70 294.2h1.1V379.9h-1.1zM1016.20 302.3h1.1V369.6h-1.1zM1016.70 315.5h1.1V357.2h-1.1zM1017.20 273.3h1.1V395.5h-1.1zM1017.70 297.4h1.1V376.4h-1.1zM1018.20 310.6h1.1V363.4h-1.1zM1018.70 284.2h1.1V387.4h-1.1zM1019.20 313.8h1.1V359.9h-1.1zM1019.70 311.0h1.1V356.5h-1.1zM1020.20 288.4h1.1V379.8h-1.1zM1020.70 305.4h1.1V370.9h-1.1zM1021.20 304.5h1.1V372.9h-1.1zM1021.70 307.7h1.1V364.8h-1.1zM1022.20 297.8h1.1V373.7h-1.1zM1022.70 300.2h1.1V367.1h-1.1zM1023.20 295.2h1.1V378.1h-1.1zM1023.70 297.2h1.1V377.6h-1.1zM1024.20 291.2h1.1V373.9h-1.1zM1024.70 312.9h1.1V360.1h-1.1zM1025.20 312.5h1.1V360.5h-1.1zM1025.70 299.4h1.1V373.9h-1.1zM1026.20 307.7h1.1V360.9h-1.1zM1026.70 303.0h1.1V370.5h-1.1zM1027.20 296.8h1.1V369.1h-1.1zM1027.70 299.1h1.1V378.1h-1.1zM1028.20 315.1h1.1V356.9h-1.1zM1028.70 298.8h1.1V368.5h-1.1zM1029.20 304.9h1.1V370.9h-1.1zM1029.70 314.3h1.1V359.8h-1.1zM1030.20 297.4h1.1V371.8h-1.1zM1030.70 310.1h1.1V367.2h-1.1zM1031.20 285.5h1.1V381.1h-1.1zM1031.70 308.5h1.1V364.0h-1.1zM1032.20 310.0h1.1V364.6h-1.1zM1032.70 310.9h1.1V355.0h-1.1zM1033.20 315.4h1.1V358.3h-1.1zM1033.70 308.0h1.1V363.4h-1.1zM1034.20 315.4h1.1V356.1h-1.1zM1034.70 296.6h1.1V370.7h-1.1zM1035.20 303.6h1.1V369.0h-1.1zM1035.70 293.8h1.1V373.1h-1.1zM1036.20 282.8h1.1V383.6h-1.1zM1036.70 301.6h1.1V368.4h-1.1zM1037.20 308.1h1.1V360.0h-1.1zM1037.70 309.3h1.1V366.3h-1.1zM1038.20 282.6h1.1V381.8h-1.1zM1038.70 314.1h1.1V355.7h-1.1zM1039.20 295.3h1.1V374.9h-1.1zM1039.70 297.0h1.1V374.4h-1.1zM1040.20 310.7h1.1V362.7h-1.1zM1040.70 312.5h1.1V360.8h-1.1zM1041.20 308.4h1.1V362.1h-1.1zM1041.70 298.4h1.1V371.5h-1.1zM1042.20 302.1h1.1V369.4h-1.1zM1042.70 310.7h1.1V362.7h-1.1zM1043.20 299.2h1.1V374.7h-1.1zM1043.70 309.9h1.1V360.2h-1.1zM1044.20 309.3h1.1V356.6h-1.1zM1044.70 302.3h1.1V376.2h-1.1zM1045.20 312.5h1.1V361.1h-1.1zM1045.70 300.0h1.1V372.3h-1.1zM1046.20 308.7h1.1V363.6h-1.1zM1046.70 306.3h1.1V363.6h-1.1zM1047.20 298.4h1.1V369.3h-1.1zM1047.70 303.7h1.1V366.6h-1.1zM1048.20 305.4h1.1V365.2h-1.1zM1048.70 303.9h1.1V365.5h-1.1zM1049.20 285.1h1.1V378.9h-1.1zM1049.70 315.8h1.1V354.9h-1.1zM1050.20 315.0h1.1V357.6h-1.1zM1050.70 283.3h1.1V385.4h-1.1zM1051.20 314.1h1.1V357.3h-1.1zM1051.70 303.7h1.1V361.0h-1.1zM1052.20 286.3h1.1V384.0h-1.1zM1052.70 310.3h1.1V360.7h-1.1zM1053.20 301.3h1.1V365.8h-1.1zM1053.70 307.9h1.1V358.6h-1.1zM1054.20 310.5h1.1V361.9h-1.1zM1054.70 303.9h1.1V364.9h-1.1zM1055.20 278.4h1.1V395.8h-1.1zM1055.70 310.4h1.1V359.9h-1.1zM1056.20 307.5h1.1V365.6h-1.1zM1056.70 312.9h1.1V357.7h-1.1zM1057.20 296.2h1.1V369.2h-1.1zM1057.70 309.4h1.1V361.8h-1.1zM1058.20 311.8h1.1V358.7h-1.1zM1058.70 299.1h1.1V374.7h-1.1zM1059.20 300.7h1.1V369.1h-1.1zM1059.70 298.4h1.1V371.5h-1.1zM1060.20 280.2h1.1V395.9h-1.1zM1060.70 294.5h1.1V381.6h-1.1zM1061.20 298.4h1.1V375.8h-1.1zM1061.70 284.9h1.1V391.7h-1.1zM1062.20 309.0h1.1V363.6h-1.1zM1062.70 301.2h1.1V372.8h-1.1zM1063.20 304.5h1.1V369.6h-1.1zM1063.70 296.7h1.1V376.2h-1.1zM1064.20 299.3h1.1V372.3h-1.1zM1064.70 308.8h1.1V363.0h-1.1zM1065.20 302.3h1.1V377.1h-1.1zM1065.70 305.2h1.1V366.2h-1.1zM1066.20 301.1h1.1V369.5h-1.1zM1066.70 304.3h1.1V365.9h-1.1zM1067.20 312.5h1.1V358.8h-1.1zM1067.70 296.1h1.1V376.3h-1.1zM1068.20 303.5h1.1V364.3h-1.1zM1068.70 307.4h1.1V358.4h-1.1zM1069.20 283.1h1.1V389.8h-1.1zM1069.70 314.8h1.1V353.2h-1.1zM1070.20 303.0h1.1V369.2h-1.1zM1070.70 295.1h1.1V376.8h-1.1zM1071.20 308.9h1.1V365.6h-1.1zM1071.70 310.2h1.1V365.4h-1.1zM1072.20 306.0h1.1V366.4h-1.1zM1072.70 313.1h1.1V357.0h-1.1zM1073.20 283.3h1.1V381.9h-1.1zM1073.70 303.7h1.1V365.2h-1.1zM1074.20 308.5h1.1V362.9h-1.1zM1074.70 313.1h1.1V353.6h-1.1zM1075.20 306.3h1.1V365.3h-1.1zM1075.70 305.3h1.1V366.0h-1.1zM1076.20 300.1h1.1V373.6h-1.1zM1076.70 304.6h1.1V365.7h-1.1zM1077.20 304.2h1.1V367.4h-1.1zM1077.70 312.7h1.1V356.9h-1.1zM166.55 267.1h1.1V400.7h-1.1zM170.95 274.4h1.1V405.7h-1.1zM213.05 267.1h1.1V400.0h-1.1zM218.95 274.4h1.1V398.6h-1.1zM215.15 276.5h1.1V409.3h-1.1zM244.45 275.2h1.1V393.6h-1.1zM259.05 265.7h1.1V403.6h-1.1zM265.85 273.5h1.1V394.8h-1.1zM270.15 273.5h1.1V392.1h-1.1zM273.75 270.7h1.1V402.1h-1.1zM205.15 277.9h1.1V398.6h-1.1zM194.95 278.6h1.1V390.7h-1.1zM175.15 280.2h1.1V386.0h-1.1zM163.05 281.4h1.1V397.0h-1.1zM200.15 281.9h1.1V391.5h-1.1zM225.85 283.6h1.1V395.7h-1.1zM155.85 285.3h1.1V390.0h-1.1zM280.15 265.7h1.1V392.8h-1.1zM284.45 267.9h1.1V400.3h-1.1zM288.65 271.4h1.1V399.3h-1.1zM290.85 273.5h1.1V397.4h-1.1zM303.05 270.0h1.1V392.0h-1.1zM314.45 267.9h1.1V397.0h-1.1zM320.15 265.1h1.1V398.3h-1.1zM327.35 270.0h1.1V390.1h-1.1zM335.85 265.1h1.1V395.3h-1.1zM345.05 270.7h1.1V398.6h-1.1zM351.45 273.5h1.1V398.3h-1.1zM354.45 261.4h1.1V402.9h-1.1zM357.95 270.0h1.1V403.1h-1.1zM360.25 267.9h1.1V395.0h-1.1zM368.75 270.7h1.1V404.7h-1.1zM371.15 283.6h1.1V396.8h-1.1zM393.75 269.3h1.1V400.0h-1.1zM398.25 273.5h1.1V397.4h-1.1zM402.35 281.9h1.1V392.5h-1.1zM378.35 283.6h1.1V388.6h-1.1zM450.15 262.9h1.1V402.9h-1.1zM458.05 274.4h1.1V391.2h-1.1zM477.35 271.4h1.1V392.0h-1.1zM512.35 272.2h1.1V399.9h-1.1zM530.85 270.7h1.1V400.2h-1.1zM541.35 270.0h1.1V403.6h-1.1zM566.55 258.6h1.1V413.8h-1.1zM572.35 272.8h1.1V399.0h-1.1zM574.85 272.2h1.1V397.0h-1.1zM635.15 272.2h1.1V397.2h-1.1zM657.35 270.7h1.1V401.4h-1.1zM718.75 267.9h1.1V396.0h-1.1zM722.35 272.2h1.1V395.6h-1.1zM732.35 267.1h1.1V402.7h-1.1zM733.75 273.5h1.1V392.6h-1.1zM740.15 275.7h1.1V395.2h-1.1zM745.05 230.7h1.1V423.9h-1.1zM754.85 205.7h1.1V428.1h-1.1zM757.25 193.7h1.1V460.0h-1.1zM757.65 208.0h1.1V475.1h-1.1zM758.35 203.0h1.1V434.8h-1.1zM749.65 250.8h1.1V409.6h-1.1zM764.65 250.8h1.1V407.1h-1.1zM762.05 255.0h1.1V405.4h-1.1zM769.25 257.9h1.1V428.7h-1.1zM772.35 259.2h1.1V401.2h-1.1zM779.45 268.6h1.1V397.8h-1.1zM788.35 265.7h1.1V407.1h-1.1zM790.85 268.6h1.1V402.5h-1.1zM794.75 261.4h1.1V401.2h-1.1zM836.55 269.3h1.1V399.3h-1.1zM848.05 273.5h1.1V396.4h-1.1zM851.55 273.5h1.1V388.1h-1.1zM862.35 274.4h1.1V390.0h-1.1zM870.85 271.4h1.1V402.5h-1.1zM878.75 270.0h1.1V398.8h-1.1zM896.35 276.5h1.1V391.2h-1.1zM935.25 241.6h1.1V418.0h-1.1zM933.85 262.9h1.1V409.9h-1.1zM926.15 268.9h1.1V402.5h-1.1zM940.75 262.2h1.1V422.2h-1.1zM917.55 273.8h1.1V394.0h-1.1zM958.45 272.7h1.1V392.6h-1.1zM965.45 267.4h1.1V401.2h-1.1zM968.55 274.8h1.1V401.3h-1.1zM998.55 271.8h1.1V399.2h-1.1zM1012.45 266.6h1.1V402.0h-1.1zM1019.45 263.3h1.1V404.6h-1.1zM1025.45 271.8h1.1V389.3h-1.1zM1032.15 261.5h1.1V416.3h-1.1zM1048.75 276.7h1.1V394.7h-1.1zM1056.15 274.0h1.1V397.2h-1.1zM1074.85 269.3h1.1V402.4h-1.1zM871.05 275.2h1.1V402.9h-1.1zM755.85 236.6h1.1V418.0h-1.1zM756.55 234.9h1.1V424.7h-1.1zM758.05 203.0h1.1V428.1h-1.1zM758.75 208.0h1.1V424.7h-1.1zM759.35 250.0h1.1V413.8h-1.1zM754.25 253.4h1.1V409.6h-1.1zM760.15 251.7h1.1V407.9h-1.1zM753.05 258.4h1.1V404.6h-1.1zM747.95 256.7h1.1V401.2h-1.1zM763.25 258.4h1.1V406.2h-1.1zM766.65 255.0h1.1V404.6h-1.1zM935.95 268.5h1.1V404.6h-1.1zM934.65 266.8h1.1V406.2h-1.1zM936.85 270.2h1.1V401.2h-1.1z" fill="#000"/><path d="M121.1 349.1 L122.4 342.4 L123.6 336.9 L124.4 335.8L124.60 334.7L124.90 336.5L125.20 335.0L125.50 336.9L125.80 335.1L126.10 336.0L126.40 334.5L126.70 336.2L127.00 334.2L127.30 336.2L127.60 334.7L127.90 336.1L128.20 334.2L128.50 335.7L128.80 335.0L129.10 336.2L129.40 334.9L129.70 336.2L130.00 335.1L130.30 336.6L130.60 334.5L130.90 336.4L131.20 334.5L131.50 336.2L131.80 334.3L132.10 335.4L132.40 333.9L132.70 335.4L133.00 334.2L133.30 335.3L133.60 334.4L133.90 335.7L134.20 334.7L134.50 336.2L134.80 334.8L135.10 336.2L135.40 334.4L135.70 336.4L136.00 334.5L136.30 336.5L136.60 335.0L136.90 335.9L137.20 334.9L137.50 336.4L137.80 334.5L138.10 336.8L138.40 334.8L138.70 337.0L139.00 335.3L139.30 337.4L139.60 335.6L139.90 337.1L140.20 335.2L140.50 336.5L140.80 335.1L141.10 337.1L141.40 335.3L141.70 337.1L142.00 335.4L142.30 336.9L142.60 335.2L142.90 336.3L143.20 335.6L143.50 336.7L143.80 335.3L144.10 336.8L144.40 335.4L144.70 336.4L145.00 335.0L145.30 336.4L145.60 334.5L145.90 336.1L146.20 334.3L146.50 336.2L146.80 334.7L147.10 337.0L147.40 335.3L147.70 336.5L148.00 335.4L148.30 336.6L148.60 335.6L148.90 336.7L149.20 335.3L149.50 337.0L149.80 335.8L150.10 337.6L150.40 336.3L150.70 337.6L151.00 336.4L151.30 337.6L151.60 335.5L151.90 337.2L152.20 335.1L152.50 336.9L152.80 336.2L153.10 337.2L153.40 336.6L153.70 337.6L154.00 335.4L154.30 336.7L154.60 335.2L154.90 336.4L155.20 334.8L155.50 336.1L155.80 334.5L156.10 336.4L156.40 334.7L156.70 336.0L157.00 334.8L157.30 336.6L157.60 335.3L157.90 336.6L158.20 335.3L158.50 337.1L158.80 335.1L159.10 336.7L159.40 335.7L159.70 337.3L160.00 336.0L160.30 337.2L160.60 336.0L160.90 337.1L161.20 335.4L161.50 337.1L161.80 334.9L162.10 337.2L162.40 335.2L162.70 336.8L163.00 335.2L163.30 336.3L163.60 335.9L163.90 337.7L164.20 336.3L164.50 337.7L164.80 336.2L165.10 337.5L165.40 336.3L165.70 337.0L166.00 335.8L166.30 336.8L166.60 335.4L166.90 336.8L167.20 335.6L167.50 337.4L167.80 335.4L168.10 337.4L168.40 335.3L168.70 336.8L169.00 336.1L169.30 337.1L169.60 336.3L169.90 337.6L170.20 335.8L170.50 336.8L170.80 336.2L171.10 337.3L171.40 335.6L171.70 337.3L172.00 335.6L172.30 337.5L172.60 336.1L172.90 337.1L173.20 335.3L173.50 337.2L173.80 335.3L174.10 337.3L174.40 335.5L174.70 336.6L175.00 334.8L175.30 336.2L175.60 334.8L175.90 336.0L176.20 335.4L176.50 337.3L176.80 335.6L177.10 337.3L177.40 335.3L177.70 337.1L178.00 335.4L178.30 336.5L178.60 335.1L178.90 336.6L179.20 336.1L179.50 337.2L179.80 335.9L180.10 336.8L180.40 334.7L180.70 336.8L181.00 335.3L181.30 337.1L181.60 335.6L181.90 336.9L182.20 335.3L182.50 336.2L182.80 334.8L183.10 336.5L183.40 334.7L183.70 335.8L184.00 335.1L184.30 336.0L184.60 335.4L184.90 336.5L185.20 335.0L185.50 337.1L185.80 335.4L186.10 337.3L186.40 335.9L186.70 337.2L187.00 335.6L187.30 337.8L187.60 336.2L187.90 337.0L188.20 335.4L188.50 337.3L188.80 335.2L189.10 336.7L189.40 334.8L189.70 336.6L190.00 334.8L190.30 336.8L190.60 335.4L190.90 336.8L191.20 335.4L191.50 336.7L191.80 335.2L192.10 336.4L192.40 335.3L192.70 336.6L193.00 335.0L193.30 336.1L193.60 335.3L193.90 336.0L194.20 335.2L194.50 336.4L194.80 335.0L195.10 336.8L195.40 334.8L195.70 336.5L196.00 335.7L196.30 337.0L196.60 335.0L196.90 336.6L197.20 334.7L197.50 336.0L197.80 335.1L198.10 336.2L198.40 334.8L198.70 335.7L199.00 334.6L199.30 336.2L199.60 334.8L199.90 335.7L200.20 334.5L200.50 336.0L200.80 334.3L201.10 335.5L201.40 334.6L201.70 335.6L202.00 334.8L202.30 335.8L202.60 334.6L202.90 336.0L203.20 334.7L203.50 336.2L203.80 335.5L204.10 336.1L204.40 334.9L204.70 336.2L205.00 334.5L205.30 336.4L205.60 334.6L205.90 336.0L206.20 334.5L206.50 336.3L206.80 334.6L207.10 335.5L207.40 334.0L207.70 335.8L208.00 334.1L208.30 336.0L208.60 334.1L208.90 336.0L209.20 334.1L209.50 335.9L209.80 335.3L210.10 336.5L210.40 334.6L210.70 336.1L211.00 334.8L211.30 336.3L211.60 335.2L211.90 336.1L212.20 334.9L212.50 337.0L212.80 335.1L213.10 336.6L213.40 334.7L213.70 336.6L214.00 335.1L214.30 336.0L214.60 334.7L214.90 336.0L215.20 334.0L215.50 335.6L215.80 334.4L216.10 336.5L216.40 335.2L216.70 336.4L217.00 334.5L217.30 335.9L217.60 334.7L217.90 335.8L218.20 335.0L218.50 335.8L218.80 334.3L219.10 335.6L219.40 333.7L219.70 334.9L220.00 334.1L220.30 335.3L220.60 333.6L220.90 335.6L221.20 334.1L221.50 335.9L221.80 334.4L222.10 335.7L222.40 334.2L222.70 335.3L223.00 334.2L223.30 336.4L223.60 334.5L223.90 336.7L224.20 335.3L224.50 336.6L224.80 335.5L225.10 336.5L225.40 335.0L225.70 336.4L226.00 334.4L226.30 336.1L226.60 334.7L226.90 335.7L227.20 334.5L227.50 336.1L227.80 334.6L228.10 336.1L228.40 334.6L228.70 336.2L229.00 334.9L229.30 336.1L229.60 334.2L229.90 335.2L230.20 334.2L230.50 335.4L230.80 334.4L231.10 335.9L231.40 334.2L231.70 335.1L232.00 334.2L232.30 335.4L232.60 334.0L232.90 335.5L233.20 333.6L233.50 335.3L233.80 333.7L234.10 335.8L234.40 334.1L234.70 335.2L235.00 333.8L235.30 335.7L235.60 333.6L235.90 335.7L236.20 334.7L236.50 336.1L236.80 335.2L237.10 335.7L237.40 334.2L237.70 336.0L238.00 333.8L238.30 335.0L238.60 334.0L238.90 335.4L239.20 333.0L239.50 334.9L239.80 333.2L240.10 334.4L240.40 333.3L240.70 334.4L241.00 332.7L241.30 334.1L241.60 332.9L241.90 334.6L242.20 332.6L242.50 334.5L242.80 332.8L243.10 333.8L243.40 332.3L243.70 333.9L244.00 332.6L244.30 333.8L244.60 332.8L244.90 335.2L245.20 333.8L245.50 335.1L245.80 333.6L246.10 334.8L246.40 333.8L246.70 334.8L247.00 333.4L247.30 334.5L247.60 332.5L247.90 334.5L248.20 333.1L248.50 334.6L248.80 332.4L249.10 334.9L249.40 333.5L249.70 335.0L250.00 333.3L250.30 335.0L250.60 333.3L250.90 334.6L251.20 333.2L251.50 335.0L251.80 332.9L252.10 334.8L252.40 333.1L252.70 334.2L253.00 333.0L253.30 334.6L253.60 332.7L253.90 334.4L254.20 333.4L254.50 335.2L254.80 333.6L255.10 335.1L255.40 332.8L255.70 334.2L256.00 333.0L256.30 333.9L256.60 332.6L256.90 333.9L257.20 332.1L257.50 333.1L257.80 331.8L258.10 333.3L258.40 331.7L258.70 333.8L259.00 331.9L259.30 333.9L259.60 332.9L259.90 334.0L260.20 332.7L260.50 333.7L260.80 331.8L261.10 333.6L261.40 331.5L261.70 333.3L262.00 331.7L262.30 333.2L262.60 331.3L262.90 332.9L263.20 331.3L263.50 332.9L263.80 331.4L264.10 333.0L264.40 332.0L264.70 333.3L265.00 332.1L265.30 333.9L265.60 332.1L265.90 334.1L266.20 332.6L266.50 334.5L266.80 332.8L267.10 333.7L267.40 332.2L267.70 334.0L268.00 332.1L268.30 333.1L268.60 331.9L268.90 333.8L269.20 332.5L269.50 333.8L269.80 332.2L270.10 334.1L270.40 332.3L270.70 334.1L271.00 333.4L271.30 334.6L271.60 332.1L271.90 333.7L272.20 332.8L272.50 334.3L272.80 332.0L273.10 334.1L273.40 332.2L273.70 334.1L274.00 332.3L274.30 334.3L274.60 332.7L274.90 334.3L275.20 332.5L275.50 333.7L275.80 331.8L276.10 333.8L276.40 332.2L276.70 333.2L277.00 332.2L277.30 333.4L277.60 331.7L277.90 333.3L278.20 331.9L278.50 333.8L278.80 332.0L279.10 334.1L279.40 332.5L279.70 334.2L280.00 332.7L280.30 333.8L280.60 332.3L280.90 333.0L281.20 332.4L281.50 334.2L281.80 332.8L282.10 333.8L282.40 331.9L282.70 333.1L283.00 332.3L283.30 333.3L283.60 332.4L283.90 333.5L284.20 332.0L284.50 333.7L284.80 332.4L285.10 333.8L285.40 332.9L285.70 333.7L286.00 331.7L286.30 332.9L286.60 331.4L286.90 333.3L287.20 332.0L287.50 333.6L287.80 331.7L288.10 333.4L288.40 332.3L288.70 333.6L289.00 331.8L289.30 333.7L289.60 332.8L289.90 333.6L290.20 332.4L290.50 333.6L290.80 332.2L291.10 333.7L291.40 331.5L291.70 333.2L292.00 331.8L292.30 333.5L292.60 331.8L292.90 333.0L293.20 331.9L293.50 332.7L293.80 331.8L294.10 333.6L294.40 331.7L294.70 333.4L295.00 331.9L295.30 332.9L295.60 331.3L295.90 333.1L296.20 332.2L296.50 333.6L296.80 332.2L297.10 333.0L297.40 332.2L297.70 333.7L298.00 332.1L298.30 333.9L298.60 332.1L298.90 333.4L299.20 332.2L299.50 333.7L299.80 331.9L300.10 333.6L300.40 331.4L300.70 332.6L301.00 330.9L301.30 332.6L301.60 330.8L301.90 332.8L302.20 331.5L302.50 333.9L302.80 331.9L303.10 332.9L303.40 331.9L303.70 333.5L304.00 332.3L304.30 333.6L304.60 332.6L304.90 333.6L305.20 331.7L305.50 334.0L305.80 331.8L306.10 333.6L306.40 332.1L306.70 334.1L307.00 331.9L307.30 333.5L307.60 332.8L307.90 333.5L308.20 332.0L308.50 333.9L308.80 331.7L309.10 333.6L309.40 331.1L309.70 332.6L310.00 331.6L310.30 332.8L310.60 331.0L310.90 332.8L311.20 331.1L311.50 332.6L311.80 331.6L312.10 332.3L312.40 331.8L312.70 333.0L313.00 332.2L313.30 333.2L313.60 331.7L313.90 333.1L314.20 332.1L314.50 333.6L314.80 331.6L315.10 333.3L315.40 331.7L315.70 333.1L316.00 332.3L316.30 333.6L316.60 331.2L316.90 333.3L317.20 331.5L317.50 333.7L317.80 331.7L318.10 333.4L318.40 331.5L318.70 333.6L319.00 332.1L319.30 333.3L319.60 331.6L319.90 333.1L320.20 332.5L320.50 333.8L320.80 331.6L321.10 333.6L321.40 331.4L321.70 333.9L322.00 332.4L322.30 333.9L322.60 332.6L322.90 333.4L323.20 332.7L323.50 333.9L323.80 332.8L324.10 333.9L324.40 332.3L324.70 334.0L325.00 331.8L325.30 333.3L325.60 331.6L325.90 333.0L326.20 331.1L326.50 332.7L326.80 331.2L327.10 333.0L327.40 331.1L327.70 333.2L328.00 332.1L328.30 333.4L328.60 332.5L328.90 333.9L329.20 332.1L329.50 333.5L329.80 332.7L330.10 333.8L330.40 332.5L330.70 333.6L331.00 333.0L331.30 333.6L331.60 331.8L331.90 333.2L332.20 332.1L332.50 333.9L332.80 332.3L333.10 333.7L333.40 332.8L333.70 334.2L334.00 331.9L334.30 333.5L334.60 331.8L334.90 332.8L335.20 331.4L335.50 333.3L335.80 331.9L336.10 333.6L336.40 332.2L336.70 333.8L337.00 332.0L337.30 334.2L337.60 332.2L337.90 333.2L338.20 331.7L338.50 333.1L338.80 332.1L339.10 333.8L339.40 332.7L339.70 334.3L340.00 332.8L340.30 333.5L340.60 332.5L340.90 333.5L341.20 331.8L341.50 332.8L341.80 330.7L342.10 333.0L342.40 331.4L342.70 333.2L343.00 331.7L343.30 333.9L343.60 332.2L343.90 333.3L344.20 332.6L344.50 333.7L344.80 332.6L345.10 333.9L345.40 332.6L345.70 333.9L346.00 332.6L346.30 334.7L346.60 332.9L346.90 334.5L347.20 333.0L347.50 334.5L347.80 333.5L348.10 334.3L348.40 333.5L348.70 334.6L349.00 333.4L349.30 334.5L349.60 333.3L349.90 334.1L350.20 332.6L350.50 334.0L350.80 332.1L351.10 333.8L351.40 331.8L351.70 334.1L352.00 332.1L352.30 334.2L352.60 332.8L352.90 333.8L353.20 332.3L353.50 333.8L353.80 332.8L354.10 334.0L354.40 332.3L354.70 333.7L355.00 332.5L355.30 333.4L355.60 332.1L355.90 333.8L356.20 333.1L356.50 334.0L356.80 332.7L357.10 334.0L357.40 332.6L357.70 334.1L358.00 332.1L358.30 333.5L358.60 332.5L358.90 334.4L359.20 332.5L359.50 334.3L359.80 332.5L360.10 334.0L360.40 332.5L360.70 334.1L361.00 332.8L361.30 334.5L361.60 333.6L361.90 334.5L362.20 333.4L362.50 334.3L362.80 333.0L363.10 334.2L363.40 332.1L363.70 334.4L364.00 332.4L364.30 334.1L364.60 333.2L364.90 334.4L365.20 333.1L365.50 334.8L365.80 332.8L366.10 334.4L366.40 333.2L366.70 334.2L367.00 333.0L367.30 333.9L367.60 332.7L367.90 333.8L368.20 333.1L368.50 333.9L368.80 332.6L369.10 334.0L369.40 333.2L369.70 334.6L370.00 333.0L370.30 334.3L370.60 332.8L370.90 333.7L371.20 332.6L371.50 333.5L371.80 332.7L372.10 334.3L372.40 333.0L372.70 334.4L373.00 332.5L373.30 334.1L373.60 332.5L373.90 333.6L374.20 332.3L374.50 333.7L374.80 332.1L375.10 333.6L375.40 332.6L375.70 334.2L376.00 333.0L376.30 334.1L376.60 332.8L376.90 334.4L377.20 332.4L377.50 333.8L377.80 332.7L378.10 334.6L378.40 333.4L378.70 334.8L379.00 333.7L379.30 334.8L379.60 334.2L379.90 335.5L380.20 333.8L380.50 334.2L380.80 333.3L381.10 334.1L381.40 332.6L381.70 333.8L382.00 332.6L382.30 334.5L382.60 333.2L382.90 334.3L383.20 333.0L383.50 334.6L383.80 333.0L384.10 334.2L384.40 332.6L384.70 334.6L385.00 333.0L385.30 334.4L385.60 333.2L385.90 334.3L386.20 332.9L386.50 335.2L386.80 333.5L387.10 334.8L387.40 332.9L387.70 334.6L388.00 333.1L388.30 334.3L388.60 333.2L388.90 334.5L389.20 332.5L389.50 334.7L389.80 333.0L390.10 334.2L390.40 332.6L390.70 334.6L391.00 333.5L391.30 334.7L391.60 333.1L391.90 334.9L392.20 333.8L392.50 335.1L392.80 333.1L393.10 334.8L393.40 332.9L393.70 334.8L394.00 333.7L394.30 335.1L394.60 333.3L394.90 334.7L395.20 333.5L395.50 335.1L395.80 333.2L396.10 335.1L396.40 333.7L396.70 335.4L397.00 333.8L397.30 334.6L397.60 333.6L397.90 334.8L398.20 333.8L398.50 334.7L398.80 333.6L399.10 335.7L399.40 334.3L399.70 334.9L400.00 334.1L400.30 335.0L400.60 333.9L400.90 335.3L401.20 333.7L401.50 335.1L401.80 333.3L402.10 334.9L402.40 333.4L402.70 334.3L403.00 332.5L403.30 334.6L403.60 333.3L403.90 334.2L404.20 333.1L404.50 334.8L404.80 333.9L405.10 334.6L405.40 333.7L405.70 334.8L406.00 333.2L406.30 334.5L406.60 333.2L406.90 334.7L407.20 332.9L407.50 334.0L407.80 333.4L408.10 334.8L408.40 332.8L408.70 334.7L409.00 333.6L409.30 334.8L409.60 332.8L409.90 334.1L410.20 332.9L410.50 333.7L410.80 332.3L411.10 334.3L411.40 332.7L411.70 334.9L412.00 333.2L412.30 334.7L412.60 333.0L412.90 335.4L413.20 333.8L413.50 335.0L413.80 334.0L414.10 335.0L414.40 334.1L414.70 334.9L415.00 333.3L415.30 335.2L415.60 333.5L415.90 334.7L416.20 332.9L416.50 334.9L416.80 332.8L417.10 335.3L417.40 333.6L417.70 335.2L418.00 333.4L418.30 334.7L418.60 333.3L418.90 335.4L419.20 333.6L419.50 335.2L419.80 334.4L420.10 335.4L420.40 334.4L420.70 335.1L421.00 334.1L421.30 335.1L421.60 333.5L421.90 335.4L422.20 333.3L422.50 335.4L422.80 333.8L423.10 335.4L423.40 333.8L423.70 335.7L424.00 333.5L424.30 334.9L424.60 333.8L424.90 335.3L425.20 333.9L425.50 335.2L425.80 333.5L426.10 334.5L426.40 333.7L426.70 334.7L427.00 332.9L427.30 334.9L427.60 332.9L427.90 334.2L428.20 333.3L428.50 334.9L428.80 333.0L429.10 335.4L429.40 333.4L429.70 334.9L430.00 333.7L430.30 335.3L430.60 333.3L430.90 335.1L431.20 333.4L431.50 335.3L431.80 333.8L432.10 335.2L432.40 333.2L432.70 334.6L433.00 333.4L433.30 334.6L433.60 333.5L433.90 334.5L434.20 333.3L434.50 334.4L434.80 333.5L435.10 334.6L435.40 333.6L435.70 334.7L436.00 333.1L436.30 334.8L436.60 333.7L436.90 334.5L437.20 333.6L437.50 334.9L437.80 333.5L438.10 334.8L438.40 333.2L438.70 334.1L439.00 333.1L439.30 334.6L439.60 333.0L439.90 334.4L440.20 332.6L440.50 333.9L440.80 333.1L441.10 334.5L441.40 333.4L441.70 334.3L442.00 333.3L442.30 334.6L442.60 332.9L442.90 334.5L443.20 333.7L443.50 335.3L443.80 333.5L444.10 334.7L444.40 333.6L444.70 334.4L445.00 332.7L445.30 334.3L445.60 333.3L445.90 334.3L446.20 332.6L446.50 334.5L446.80 332.3L447.10 333.9L447.40 333.1L447.70 335.0L448.00 333.3L448.30 334.8L448.60 333.5L448.90 334.5L449.20 332.6L449.50 334.9L449.80 332.8L450.10 334.8L450.40 333.3L450.70 335.1L451.00 333.6L451.30 334.9L451.60 333.5L451.90 335.0L452.20 333.4L452.50 334.8L452.80 333.1L453.10 334.7L453.40 333.6L453.70 335.2L454.00 333.8L454.30 335.4L454.60 333.2L454.90 335.1L455.20 333.3L455.50 335.4L455.80 333.6L456.10 335.2L456.40 333.6L456.70 335.5L457.00 333.9L457.30 335.4L457.60 333.8L457.90 334.9L458.20 333.6L458.50 334.6L458.80 333.5L459.10 335.0L459.40 333.1L459.70 335.1L460.00 333.1L460.30 334.7L460.60 333.7L460.90 335.1L461.20 333.7L461.50 334.9L461.80 333.7L462.10 334.8L462.40 333.3L462.70 335.3L463.00 334.0L463.30 335.0L463.60 333.6L463.90 334.9L464.20 333.2L464.50 335.0L464.80 333.0L465.10 334.2L465.40 333.0L465.70 334.7L466.00 333.4L466.30 334.6L466.60 332.8L466.90 334.6L467.20 333.6L467.50 334.6L467.80 333.7L468.10 335.3L468.40 333.7L468.70 334.7L469.00 333.8L469.30 334.8L469.60 333.9L469.90 335.6L470.20 334.2L470.50 335.8L470.80 334.2L471.10 335.0L471.40 333.6L471.70 334.5L472.00 332.5L472.30 334.1L472.60 333.1L472.90 334.1L473.20 333.0L473.50 334.9L473.80 333.6L474.10 334.9L474.40 332.9L474.70 334.5L475.00 332.4L475.30 334.3L475.60 332.6L475.90 334.4L476.20 332.9L476.50 334.8L476.80 333.2L477.10 334.8L477.40 334.0L477.70 334.8L478.00 333.2L478.30 334.8L478.60 333.0L478.90 335.0L479.20 332.9L479.50 334.8L479.80 332.9L480.10 334.4L480.40 332.6L480.70 334.8L481.00 333.0L481.30 334.8L481.60 333.2L481.90 335.1L482.20 333.6L482.50 334.7L482.80 333.5L483.10 335.3L483.40 333.6L483.70 335.4L484.00 334.5L484.30 335.2L484.60 333.8L484.90 335.1L485.20 333.0L485.50 334.5L485.80 333.7L486.10 335.2L486.40 333.6L486.70 335.1L487.00 333.8L487.30 335.3L487.60 333.1L487.90 334.5L488.20 333.3L488.50 335.2L488.80 333.4L489.10 334.7L489.40 333.2L489.70 335.2L490.00 333.3L490.30 334.5L490.60 332.8L490.90 333.8L491.20 332.8L491.50 333.8L491.80 332.5L492.10 334.5L492.40 332.9L492.70 334.4L493.00 333.8L493.30 335.3L493.60 333.5L493.90 334.9L494.20 334.1L494.50 335.2L494.80 333.2L495.10 334.5L495.40 333.4L495.70 334.6L496.00 333.7L496.30 334.4L496.60 333.0L496.90 334.5L497.20 332.9L497.50 334.8L497.80 333.5L498.10 335.5L498.40 333.5L498.70 334.9L499.00 333.4L499.30 335.2L499.60 333.5L499.90 335.4L500.20 333.3L500.50 334.6L500.80 333.0L501.10 335.2L501.40 333.4L501.70 335.5L502.00 333.5L502.30 335.6L502.60 334.1L502.90 335.3L503.20 334.4L503.50 335.8L503.80 334.4L504.10 335.3L504.40 333.4L504.70 335.1L505.00 333.7L505.30 335.1L505.60 333.4L505.90 334.4L506.20 332.6L506.50 334.2L506.80 332.7L507.10 334.1L507.40 332.9L507.70 334.5L508.00 333.6L508.30 335.0L508.60 332.8L508.90 334.7L509.20 333.2L509.50 334.6L509.80 333.5L510.10 334.2L510.40 332.9L510.70 334.3L511.00 333.1L511.30 334.4L511.60 333.5L511.90 334.9L512.20 333.4L512.50 335.1L512.80 333.8L513.10 334.9L513.40 333.9L513.70 335.2L514.00 333.8L514.30 335.4L514.60 334.2L514.90 336.0L515.20 334.0L515.50 335.5L515.80 334.2L516.10 335.6L516.40 334.2L516.70 335.6L517.00 334.2L517.30 335.0L517.60 333.5L517.90 335.3L518.20 333.6L518.50 334.8L518.80 333.3L519.10 335.2L519.40 333.5L519.70 335.7L520.00 334.4L520.30 334.9L520.60 334.2L520.90 335.6L521.20 333.9L521.50 334.9L521.80 333.1L522.10 335.2L522.40 333.4L522.70 334.4L523.00 333.6L523.30 334.8L523.60 333.7L523.90 336.1L524.20 334.2L524.50 335.5L524.80 333.8L525.10 335.3L525.40 333.6L525.70 335.0L526.00 333.8L526.30 335.1L526.60 333.3L526.90 334.2L527.20 332.5L527.50 334.2L527.80 333.1L528.10 333.8L528.40 332.5L528.70 334.1L529.00 333.2L529.30 333.9L529.60 332.5L529.90 334.6L530.20 332.9L530.50 334.9L530.80 333.3L531.10 334.9L531.40 334.3L531.70 335.6L532.00 333.7L532.30 335.3L532.60 334.1L532.90 335.5L533.20 333.8L533.50 335.0L533.80 333.3L534.10 335.3L534.40 333.3L534.70 335.1L535.00 333.1L535.30 334.4L535.60 332.9L535.90 334.4L536.20 332.7L536.50 334.2L536.80 333.1L537.10 333.9L537.40 332.2L537.70 333.7L538.00 333.0L538.30 335.4L538.60 334.4L538.90 336.1L539.20 334.1L539.50 335.9L539.80 335.0L540.10 336.0L540.40 334.9L540.70 336.2L541.00 333.8L541.30 335.1L541.60 334.1L541.90 335.5L542.20 333.7L542.50 335.4L542.80 333.9L543.10 335.2L543.40 334.0L543.70 335.2L544.00 333.5L544.30 335.0L544.60 333.8L544.90 335.0L545.20 333.7L545.50 334.3L545.80 332.7L546.10 334.5L546.40 332.5L546.70 333.7L547.00 332.6L547.30 334.6L547.60 332.8L547.90 334.7L548.20 333.0L548.50 334.8L548.80 333.5L549.10 335.1L549.40 333.7L549.70 334.8L550.00 333.1L550.30 335.3L550.60 333.5L550.90 335.3L551.20 333.6L551.50 335.1L551.80 333.8L552.10 334.5L552.40 333.0L552.70 334.5L553.00 332.7L553.30 335.1L553.60 333.8L553.90 334.8L554.20 333.4L554.50 335.1L554.80 333.7L555.10 335.1L555.40 333.1L555.70 334.5L556.00 332.9L556.30 334.1L556.60 332.4L556.90 334.2L557.20 332.9L557.50 334.3L557.80 332.1L558.10 334.2L558.40 331.9L558.70 333.8L559.00 332.7L559.30 334.0L559.60 333.2L559.90 334.0L560.20 332.7L560.50 334.9L560.80 333.9L561.10 335.5L561.40 333.5L561.70 334.8L562.00 333.9L562.30 334.9L562.60 333.8L562.90 334.7L563.20 333.7L563.50 335.3L563.80 333.4L564.10 334.8L564.40 333.1L564.70 334.5L565.00 332.0L565.30 333.1L565.60 331.5L565.90 333.5L566.20 332.4L566.50 334.4L566.80 333.3L567.10 335.0L567.40 334.0L567.70 334.9L568.00 333.4L568.30 334.8L568.60 333.4L568.90 335.1L569.20 333.9L569.50 334.6L569.80 333.4L570.10 334.7L570.40 332.9L570.70 334.6L571.00 333.6L571.30 335.1L571.60 333.4L571.90 334.9L572.20 333.7L572.50 335.0L572.80 332.8L573.10 334.5L573.40 333.7L573.70 334.3L574.00 332.9L574.30 334.1L574.60 332.3L574.90 334.5L575.20 332.9L575.50 334.1L575.80 332.7L576.10 334.3L576.40 333.1L576.70 334.0L577.00 333.2L577.30 334.8L577.60 332.5L577.90 334.6L578.20 332.5L578.50 334.2L578.80 332.7L579.10 334.0L579.40 333.5L579.70 335.0L580.00 333.7L580.30 334.8L580.60 333.1L580.90 335.0L581.20 333.3L581.50 334.4L581.80 333.8L582.10 335.1L582.40 333.6L582.70 334.8L583.00 333.9L583.30 334.8L583.60 333.6L583.90 335.0L584.20 332.7L584.50 334.7L584.80 332.9L585.10 335.1L585.40 333.0L585.70 334.7L586.00 332.8L586.30 334.1L586.60 333.2L586.90 334.9L587.20 333.1L587.50 334.8L587.80 333.4L588.10 334.3L588.40 333.3L588.70 334.1L589.00 332.5L589.30 333.8L589.60 332.9L589.90 333.8L590.20 332.7L590.50 333.7L590.80 332.5L591.10 334.5L591.40 332.6L591.70 334.6L592.00 333.1L592.30 335.4L592.60 333.4L592.90 334.5L593.20 333.5L593.50 334.9L593.80 333.1L594.10 334.7L594.40 333.3L594.70 335.5L595.00 333.5L595.30 335.7L595.60 334.1L595.90 335.7L596.20 333.7L596.50 335.2L596.80 333.6L597.10 334.6L597.40 333.5L597.70 335.0L598.00 333.4L598.30 334.2L598.60 332.3L598.90 334.1L599.20 332.3L599.50 334.0L599.80 332.6L600.10 334.1L600.40 332.5L600.70 334.1L601.00 332.4L601.30 334.7L601.60 333.1L601.90 334.3L602.20 332.9L602.50 334.8L602.80 333.3L603.10 335.2L603.40 334.1L603.70 335.2L604.00 334.0L604.30 335.4L604.60 333.4L604.90 334.6L605.20 333.6L605.50 334.8L605.80 333.6L606.10 334.9L606.40 333.0L606.70 334.6L607.00 333.3L607.30 334.4L607.60 333.2L607.90 334.5L608.20 332.8L608.50 334.5L608.80 332.4L609.10 334.6L609.40 332.8L609.70 334.2L610.00 332.6L610.30 333.4L610.60 331.8L610.90 333.7L611.20 332.3L611.50 334.0L611.80 332.3L612.10 333.8L612.40 332.2L612.70 334.9L613.00 333.0L613.30 334.5L613.60 333.3L613.90 335.1L614.20 333.3L614.50 334.6L614.80 332.7L615.10 334.1L615.40 332.9L615.70 333.8L616.00 332.5L616.30 333.8L616.60 331.7L616.90 333.6L617.20 332.8L617.50 333.9L617.80 332.3L618.10 333.9L618.40 332.7L618.70 334.1L619.00 332.4L619.30 333.5L619.60 332.1L619.90 334.3L620.20 332.4L620.50 334.5L620.80 332.4L621.10 334.3L621.40 332.1L621.70 333.7L622.00 331.9L622.30 333.5L622.60 331.8L622.90 333.9L623.20 331.9L623.50 334.1L623.80 332.6L624.10 333.5L624.40 332.1L624.70 332.9L625.00 331.5L625.30 332.8L625.60 331.2L625.90 332.8L626.20 331.0L626.50 332.5L626.80 331.4L627.10 332.8L627.40 331.3L627.70 333.2L628.00 331.5L628.30 332.8L628.60 331.1L628.90 332.6L629.20 331.5L629.50 332.6L629.80 331.1L630.10 333.1L630.40 331.3L630.70 333.0L631.00 331.3L631.30 332.4L631.60 331.1L631.90 333.1L632.20 331.4L632.50 333.1L632.80 331.6L633.10 332.8L633.40 331.3L633.70 332.9L634.00 330.8L634.30 332.6L634.60 331.1L634.90 332.6L635.20 331.0L635.50 332.8L635.80 331.1L636.10 332.6L636.40 331.3L636.70 332.7L637.00 331.4L637.30 332.8L637.60 331.5L637.90 332.7L638.20 331.6L638.50 332.8L638.80 331.6L639.10 332.7L639.40 331.6L639.70 332.7L640.00 331.7L640.30 333.3L640.60 332.1L640.90 333.7L641.20 331.9L641.50 333.0L641.80 331.9L642.10 333.2L642.40 331.8L642.70 333.0L643.00 331.5L643.30 332.7L643.60 331.5L643.90 333.1L644.20 331.4L644.50 332.8L644.80 331.9L645.10 333.1L645.40 332.0L645.70 333.6L646.00 331.8L646.30 333.4L646.60 331.6L646.90 332.4L647.20 331.1L647.50 332.2L647.80 330.9L648.10 332.4L648.40 330.7L648.70 331.8L649.00 330.4L649.30 331.9L649.60 330.6L649.90 332.1L650.20 331.1L650.50 332.8L650.80 331.1L651.10 332.7L651.40 331.3L651.70 332.5L652.00 331.8L652.30 333.1L652.60 330.7L652.90 332.1L653.20 330.8L653.50 331.9L653.80 331.1L654.10 332.5L654.40 331.2L654.70 332.7L655.00 330.9L655.30 332.7L655.60 330.6L655.90 332.4L656.20 330.3L656.50 332.0L656.80 331.2L657.10 332.9L657.40 330.9L657.70 332.5L658.00 331.7L658.30 333.5L658.60 332.3L658.90 333.7L659.20 332.0L659.50 332.6L659.80 330.8L660.10 332.6L660.40 330.9L660.70 332.5L661.00 330.8L661.30 332.4L661.60 330.9L661.90 332.7L662.20 331.6L662.50 333.4L662.80 332.4L663.10 333.2L663.40 332.2L663.70 333.2L664.00 332.2L664.30 333.4L664.60 331.7L664.90 332.4L665.20 330.8L665.50 332.8L665.80 331.4L666.10 333.0L666.40 330.9L666.70 332.5L667.00 331.4L667.30 333.0L667.60 330.9L667.90 332.9L668.20 331.3L668.50 332.6L668.80 332.0L669.10 333.7L669.40 332.0L669.70 334.2L670.00 332.1L670.30 333.9L670.60 332.6L670.90 333.8L671.20 331.9L671.50 333.4L671.80 331.4L672.10 332.7L672.40 331.5L672.70 332.9L673.00 331.4L673.30 333.4L673.60 331.4L673.90 332.5L674.20 331.0L674.50 332.6L674.80 331.0L675.10 331.7L675.40 330.4L675.70 332.1L676.00 331.1L676.30 332.5L676.60 330.7L676.90 332.3L677.20 331.0L677.50 333.0L677.80 332.0L678.10 333.1L678.40 331.5L678.70 332.8L679.00 331.2L679.30 333.0L679.60 332.0L679.90 332.9L680.20 331.7L680.50 332.6L680.80 331.0L681.10 332.4L681.40 331.6L681.70 332.6L682.00 331.1L682.30 332.6L682.60 331.2L682.90 332.5L683.20 331.7L683.50 332.7L683.80 331.6L684.10 333.3L684.40 331.3L684.70 332.7L685.00 331.0L685.30 332.4L685.60 331.1L685.90 332.4L686.20 331.1L686.50 332.1L686.80 331.1L687.10 331.7L687.40 330.1L687.70 332.3L688.00 330.4L688.30 332.0L688.60 331.3L688.90 332.9L689.20 330.9L689.50 332.9L689.80 331.2L690.10 332.9L690.40 331.3L690.70 332.2L691.00 331.1L691.30 332.1L691.60 331.3L691.90 333.1L692.20 331.0L692.50 332.2L692.80 331.2L693.10 332.7L693.40 331.2L693.70 333.1L694.00 331.8L694.30 332.9L694.60 331.5L694.90 332.9L695.20 331.2L695.50 332.9L695.80 330.9L696.10 333.0L696.40 331.3L696.70 332.3L697.00 330.4L697.30 331.9L697.60 330.2L697.90 332.3L698.20 330.7L698.50 332.0L698.80 331.0L699.10 332.2L699.40 330.4L699.70 332.2L700.00 330.6L700.30 332.3L700.60 330.7L700.90 332.2L701.20 331.0L701.50 332.3L701.80 331.5L702.10 332.5L702.40 331.4L702.70 332.9L703.00 331.2L703.30 332.3L703.60 330.5L703.90 332.3L704.20 330.3L704.50 332.0L704.80 330.4L705.10 332.5L705.40 330.7L705.70 332.4L706.00 331.0L706.30 332.5L706.60 331.5L706.90 332.8L707.20 332.2L707.50 333.2L707.80 331.2L708.10 332.5L708.40 331.3L708.70 333.2L709.00 331.9L709.30 333.4L709.60 331.4L709.90 333.1L710.20 331.9L710.50 333.3L710.80 332.1L711.10 333.5L711.40 331.9L711.70 332.5L712.00 331.1L712.30 332.5L712.60 330.8L712.90 332.3L713.20 330.6L713.50 332.2L713.80 331.2L714.10 332.5L714.40 330.4L714.70 332.2L715.00 330.3L715.30 332.3L715.60 330.5L715.90 332.1L716.20 330.4L716.50 332.4L716.80 331.8L717.10 332.8L717.40 331.4L717.70 333.1L718.00 331.0L718.30 333.3L718.60 331.3L718.90 332.7L719.20 331.5L719.50 333.2L719.80 331.1L720.10 332.8L720.40 331.6L720.70 333.3L721.00 331.6L721.30 333.2L721.60 331.6L721.90 332.5L722.20 331.3L722.50 332.4L722.80 331.3L723.10 331.9L723.40 330.5L723.70 332.4L724.00 331.3L724.30 332.4L724.60 331.4L724.90 332.8L725.20 330.9L725.50 333.0L725.80 331.3L726.10 332.8L726.40 330.6L726.70 332.7L727.00 330.6L727.30 333.5L727.60 330.5L727.90 333.5L728.20 330.7L728.50 332.7L728.80 331.0L729.10 334.4L729.40 330.9L729.70 334.9L730.00 330.8L730.30 335.0L730.60 330.3L730.90 334.2L731.20 327.6L731.50 333.5L731.80 328.6L732.10 337.7L732.40 329.5L732.70 334.5L733.00 325.4L733.30 337.0L733.60 327.9L733.90 334.5L734.20 328.8L734.50 334.1L734.80 328.2L735.10 334.5L735.40 324.7L735.70 334.7L736.00 328.9L736.30 334.2L736.60 326.7L736.90 336.0L737.20 327.8L737.50 335.9L737.80 328.7L738.10 338.4L738.40 328.5L738.70 339.3L739.00 328.5L739.30 338.3L739.60 328.3L739.90 338.3L740.20 327.9L740.50 334.2L740.80 328.0L741.10 334.3L741.40 327.1L741.70 334.3L742.00 328.4L742.30 337.0L742.60 325.9L742.90 334.5L743.20 323.8L743.50 334.7L743.80 328.5L744.10 334.6L744.40 327.6L744.70 334.6L745.00 327.7L745.30 334.9L745.60 323.7L745.90 337.1L746.20 317.0L746.50 355.0L746.80 308.0L747.10 346.0L747.40 317.9L747.70 345.5L748.00 310.6L748.30 357.6L748.60 319.9L748.90 357.3L749.20 312.7L749.50 344.0L749.80 303.6L750.10 344.0L750.40 309.4L750.70 349.6L751.00 320.1L751.30 347.0L751.60 320.1L751.90 347.3L752.20 320.3L752.50 342.8L752.80 304.3L753.10 347.2L753.40 313.7L753.70 348.2L754.00 319.1L754.30 349.8L754.60 318.9L754.90 353.1L755.20 320.1L755.50 344.1L755.80 317.3L756.10 342.6L756.40 306.0L756.70 357.6L757.00 313.9L757.30 344.8L757.60 319.2L757.90 344.5L758.20 315.5L758.50 342.2L758.80 314.0L759.10 350.6L759.40 319.7L759.70 357.4L760.00 303.6L760.30 353.9L760.60 321.2L760.90 348.0L761.20 307.6L761.50 351.1L761.80 323.3L762.10 344.4L762.40 323.0L762.70 344.6L763.00 321.7L763.30 339.5L763.60 321.9L763.90 344.5L764.20 324.2L764.50 338.0L764.80 323.1L765.10 344.0L765.40 325.3L765.70 336.8L766.00 325.8L766.30 336.1L766.60 325.6L766.90 341.0L767.20 321.3L767.50 339.2L767.80 326.0L768.10 339.9L768.40 328.4L768.70 335.9L769.00 326.5L769.30 335.2L769.60 328.0L769.90 336.9L770.20 325.6L770.50 336.5L770.80 327.7L771.10 334.1L771.40 327.5L771.70 335.2L772.00 329.0L772.30 337.0L772.60 330.4L772.90 334.5L773.20 330.5L773.50 336.6L773.80 329.2L774.10 333.9L774.40 329.5L774.70 335.4L775.00 327.8L775.30 333.3L775.60 328.3L775.90 334.0L776.20 328.4L776.50 333.5L776.80 329.7L777.10 334.3L777.40 329.7L777.70 335.2L778.00 328.3L778.30 334.8L778.60 329.4L778.90 336.5L779.20 328.0L779.50 335.3L779.80 325.3L780.10 337.2L780.40 328.3L780.70 334.8L781.00 326.8L781.30 335.2L781.60 328.6L781.90 337.7L782.20 328.5L782.50 336.2L782.80 326.5L783.10 339.8L783.40 325.1L783.70 338.4L784.00 327.4L784.30 337.4L784.60 328.1L784.90 335.7L785.20 327.2L785.50 335.8L785.80 325.9L786.10 337.8L786.40 326.3L786.70 339.9L787.00 327.1L787.30 335.9L787.60 328.5L787.90 340.2L788.20 326.2L788.50 338.3L788.80 328.0L789.10 336.3L789.40 325.2L789.70 339.9L790.00 323.3L790.30 337.5L790.60 328.2L790.90 335.9L791.20 325.2L791.50 337.7L791.80 325.9L792.10 335.8L792.40 328.7L792.70 336.7L793.00 324.3L793.30 339.8L793.60 324.2L793.90 335.7L794.20 328.3L794.50 338.5L794.80 325.3L795.10 339.8L795.40 328.6L795.70 338.0L796.00 328.5L796.30 335.4L796.60 328.7L796.90 336.9L797.20 328.2L797.50 335.8L797.80 327.8L798.10 335.1L798.40 327.7L798.70 334.7L799.00 326.8L799.30 335.5L799.60 326.0L799.90 337.6L800.20 329.5L800.50 336.9L800.80 326.8L801.10 334.8L801.40 330.2L801.70 335.2L802.00 328.9L802.30 336.4L802.60 328.9L802.90 334.6L803.20 327.9L803.50 334.9L803.80 331.3L804.10 336.2L804.40 330.9L804.70 335.3L805.00 330.1L805.30 335.5L805.60 330.5L805.90 334.4L806.20 328.9L806.50 335.3L806.80 330.3L807.10 334.1L807.40 330.2L807.70 335.7L808.00 330.6L808.30 334.9L808.60 331.3L808.90 334.4L809.20 329.2L809.50 334.1L809.80 330.2L810.10 334.3L810.40 329.2L810.70 335.0L811.00 329.9L811.30 333.7L811.60 329.6L811.90 334.8L812.20 330.0L812.50 333.7L812.80 330.9L813.10 333.9L813.40 330.3L813.70 333.8L814.00 330.2L814.30 334.7L814.60 331.0L814.90 334.2L815.20 331.4L815.50 334.6L815.80 331.2L816.10 334.0L816.40 331.3L816.70 333.9L817.00 331.2L817.30 334.9L817.60 331.1L817.90 333.4L818.20 331.0L818.50 333.4L818.80 331.2L819.10 333.8L819.40 330.0L819.70 334.4L820.00 330.2L820.30 334.2L820.60 331.8L820.90 334.9L821.20 331.7L821.50 334.4L821.80 330.6L822.10 334.2L822.40 331.4L822.70 334.4L823.00 332.0L823.30 333.9L823.60 331.6L823.90 334.4L824.20 331.5L824.50 333.8L824.80 331.0L825.10 334.9L825.40 332.0L825.70 334.9L826.00 331.3L826.30 334.3L826.60 331.7L826.90 333.7L827.20 330.0L827.50 333.7L827.80 331.1L828.10 333.7L828.40 330.5L828.70 333.3L829.00 330.2L829.30 334.4L829.60 330.7L829.90 333.3L830.20 331.5L830.50 333.4L830.80 331.4L831.10 334.7L831.40 331.7L831.70 334.4L832.00 330.5L832.30 334.5L832.60 331.0L832.90 333.8L833.20 331.9L833.50 334.4L833.80 331.3L834.10 334.1L834.40 331.7L834.70 334.2L835.00 332.2L835.30 333.9L835.60 331.8L835.90 333.7L836.20 331.5L836.50 333.8L836.80 331.2L837.10 333.0L837.40 330.1L837.70 333.0L838.00 331.6L838.30 333.5L838.60 332.1L838.90 334.2L839.20 332.5L839.50 334.5L839.80 331.7L840.10 335.1L840.40 332.4L840.70 333.6L841.00 331.8L841.30 333.2L841.60 331.4L841.90 332.9L842.20 331.6L842.50 333.6L842.80 332.4L843.10 334.0L843.40 331.9L843.70 333.7L844.00 332.1L844.30 333.8L844.60 331.3L844.90 333.3L845.20 331.7L845.50 333.5L845.80 331.7L846.10 334.3L846.40 332.3L846.70 333.9L847.00 332.4L847.30 333.8L847.60 332.1L847.90 333.8L848.20 332.5L848.50 333.9L848.80 332.2L849.10 333.9L849.40 332.5L849.70 333.6L850.00 331.4L850.30 333.7L850.60 331.7L850.90 334.0L851.20 331.4L851.50 333.5L851.80 331.8L852.10 333.6L852.40 332.1L852.70 333.7L853.00 332.0L853.30 334.3L853.60 331.9L853.90 333.7L854.20 332.2L854.50 333.6L854.80 331.9L855.10 333.3L855.40 331.9L855.70 333.5L856.00 332.0L856.30 333.0L856.60 332.1L856.90 333.7L857.20 332.1L857.50 333.5L857.80 331.5L858.10 333.9L858.40 331.3L858.70 333.9L859.00 332.2L859.30 333.6L859.60 331.9L859.90 333.3L860.20 331.3L860.50 332.6L860.80 331.6L861.10 332.9L861.40 330.8L861.70 333.2L862.00 331.2L862.30 333.4L862.60 332.1L862.90 333.6L863.20 332.7L863.50 335.0L863.80 332.6L864.10 334.9L864.40 332.4L864.70 334.9L865.00 333.0L865.30 334.4L865.60 333.2L865.90 334.3L866.20 332.9L866.50 334.8L866.80 333.2L867.10 334.1L867.40 332.5L867.70 335.0L868.00 333.0L868.30 334.1L868.60 332.3L868.90 334.8L869.20 333.2L869.50 335.0L869.80 332.5L870.10 334.2L870.40 332.6L870.70 334.7L871.00 333.2L871.30 334.7L871.60 333.3L871.90 334.3L872.20 333.1L872.50 334.1L872.80 332.4L873.10 334.4L873.40 332.5L873.70 334.0L874.00 333.0L874.30 334.5L874.60 332.9L874.90 334.5L875.20 333.0L875.50 334.7L875.80 332.8L876.10 335.0L876.40 333.1L876.70 334.4L877.00 333.1L877.30 334.3L877.60 333.3L877.90 334.7L878.20 333.1L878.50 334.9L878.80 332.4L879.10 333.8L879.40 332.4L879.70 333.3L880.00 331.6L880.30 333.6L880.60 332.5L880.90 333.7L881.20 332.4L881.50 334.0L881.80 333.3L882.10 335.6L882.40 333.9L882.70 335.4L883.00 333.6L883.30 335.6L883.60 333.5L883.90 335.4L884.20 333.6L884.50 335.2L884.80 333.1L885.10 334.4L885.40 332.7L885.70 334.6L886.00 332.0L886.30 334.1L886.60 331.5L886.90 333.5L887.20 331.4L887.50 333.1L887.80 331.9L888.10 333.3L888.40 332.3L888.70 334.0L889.00 331.8L889.30 333.7L889.60 332.4L889.90 333.9L890.20 331.9L890.50 334.1L890.80 332.4L891.10 333.7L891.40 332.2L891.70 333.7L892.00 332.7L892.30 333.9L892.60 332.5L892.90 334.5L893.20 332.6L893.50 334.4L893.80 332.6L894.10 334.5L894.40 332.3L894.70 333.8L895.00 332.3L895.30 334.1L895.60 331.7L895.90 333.3L896.20 331.9L896.50 333.4L896.80 331.9L897.10 333.8L897.40 332.1L897.70 333.7L898.00 331.9L898.30 333.7L898.60 332.3L898.90 334.3L899.20 332.6L899.50 333.7L899.80 332.9L900.10 334.3L900.40 332.5L900.70 334.9L901.00 332.2L901.30 334.6L901.60 332.6L901.90 334.8L902.20 332.3L902.50 334.4L902.80 332.5L903.10 335.0L903.40 333.0L903.70 335.3L904.00 333.4L904.30 334.6L904.60 333.2L904.90 334.5L905.20 332.8L905.50 334.8L905.80 332.7L906.10 335.3L906.40 333.1L906.70 335.0L907.00 333.3L907.30 334.6L907.60 333.3L907.90 334.7L908.20 333.3L908.50 335.3L908.80 332.5L909.10 335.0L909.40 333.0L909.70 334.8L910.00 332.2L910.30 335.1L910.60 333.4L910.90 336.2L911.20 332.6L911.50 335.1L911.80 333.2L912.10 334.8L912.40 333.3L912.70 335.7L913.00 333.2L913.30 335.1L913.60 332.5L913.90 336.9L914.20 333.2L914.50 335.0L914.80 332.7L915.10 336.8L915.40 331.3L915.70 336.8L916.00 333.0L916.30 335.4L916.60 331.4L916.90 335.3L917.20 332.0L917.50 335.4L917.80 333.1L918.10 337.1L918.40 332.7L918.70 336.7L919.00 332.9L919.30 335.1L919.60 332.9L919.90 337.3L920.20 331.7L920.50 336.2L920.80 332.7L921.10 335.4L921.40 332.8L921.70 335.5L922.00 331.6L922.30 336.4L922.60 333.1L922.90 337.6L923.20 332.6L923.50 338.3L923.80 332.9L924.10 335.9L924.40 332.1L924.70 338.6L925.00 332.2L925.30 340.0L925.60 330.7L925.90 335.6L926.20 331.0L926.50 335.4L926.80 327.5L927.10 336.0L927.40 329.6L927.70 336.0L928.00 327.2L928.30 337.9L928.60 330.4L928.90 336.4L929.20 327.1L929.50 340.8L929.80 329.1L930.10 338.4L930.40 327.6L930.70 339.2L931.00 330.2L931.30 340.4L931.60 329.3L931.90 340.9L932.20 329.0L932.50 338.4L932.80 327.1L933.10 338.5L933.40 321.5L933.70 345.2L934.00 326.3L934.30 345.5L934.60 325.0L934.90 341.8L935.20 328.4L935.50 343.7L935.80 319.3L936.10 344.0L936.40 327.2L936.70 339.6L937.00 325.9L937.30 343.9L937.60 325.9L937.90 338.5L938.20 328.5L938.50 338.7L938.80 322.3L939.10 339.8L939.40 327.9L939.70 342.5L940.00 322.3L940.30 339.3L940.60 323.3L940.90 341.4L941.20 329.9L941.50 341.3L941.80 330.3L942.10 339.4L942.40 330.6L942.70 341.0L943.00 328.0L943.30 341.4L943.60 331.2L943.90 339.9L944.20 330.4L944.50 338.8L944.80 329.2L945.10 336.9L945.40 329.2L945.70 337.9L946.00 331.5L946.30 337.0L946.60 331.8L946.90 336.8L947.20 332.5L947.50 336.8L947.80 331.3L948.10 336.0L948.40 332.7L948.70 337.5L949.00 333.7L949.30 337.4L949.60 332.7L949.90 337.1L950.20 333.4L950.50 336.8L950.80 333.2L951.10 335.6L951.40 333.4L951.70 335.5L952.00 333.8L952.30 336.9L952.60 333.7L952.90 336.6L953.20 333.6L953.50 336.1L953.80 334.3L954.10 336.5L954.40 333.1L954.70 336.3L955.00 333.9L955.30 336.9L955.60 334.3L955.90 336.3L956.20 334.5L956.50 335.8L956.80 334.0L957.10 335.8L957.40 334.2L957.70 335.7L958.00 333.3L958.30 335.2L958.60 333.7L958.90 335.1L959.20 333.6L959.50 336.1L959.80 333.8L960.10 335.1L960.40 333.3L960.70 335.5L961.00 333.7L961.30 335.4L961.60 333.6L961.90 335.7L962.20 334.1L962.50 335.9L962.80 333.9L963.10 336.4L963.40 333.9L963.70 335.9L964.00 334.4L964.30 335.5L964.60 333.8L964.90 335.7L965.20 334.5L965.50 337.1L965.80 335.3L966.10 336.3L966.40 334.2L966.70 336.2L967.00 333.7L967.30 336.4L967.60 334.5L967.90 335.6L968.20 334.0L968.50 337.1L968.80 334.2L969.10 336.4L969.40 334.0L969.70 336.4L970.00 334.2L970.30 336.2L970.60 334.8L970.90 336.6L971.20 334.4L971.50 336.0L971.80 334.3L972.10 336.5L972.40 334.8L972.70 336.2L973.00 334.1L973.30 336.5L973.60 334.3L973.90 336.6L974.20 333.9L974.50 336.3L974.80 334.5L975.10 335.7L975.40 333.8L975.70 336.4L976.00 334.6L976.30 336.4L976.60 334.0L976.90 336.0L977.20 334.2L977.50 336.7L977.80 334.2L978.10 336.9L978.40 334.3L978.70 336.2L979.00 334.4L979.30 335.9L979.60 334.8L979.90 336.3L980.20 334.0L980.50 336.4L980.80 334.3L981.10 336.3L981.40 334.8L981.70 335.8L982.00 333.9L982.30 336.8L982.60 334.1L982.90 336.8L983.20 334.8L983.50 336.5L983.80 335.0L984.10 336.9L984.40 334.5L984.70 335.9L985.00 334.7L985.30 336.3L985.60 334.5L985.90 335.8L986.20 334.7L986.50 336.3L986.80 334.1L987.10 336.7L987.40 334.9L987.70 337.1L988.00 334.6L988.30 336.4L988.60 335.0L988.90 336.3L989.20 334.1L989.50 337.0L989.80 334.5L990.10 337.1L990.40 335.0L990.70 337.3L991.00 334.8L991.30 337.3L991.60 334.5L991.90 335.9L992.20 335.0L992.50 336.7L992.80 334.9L993.10 336.2L993.40 335.1L993.70 337.4L994.00 335.2L994.30 336.3L994.60 334.8L994.90 336.3L995.20 334.9L995.50 337.2L995.80 335.1L996.10 336.9L996.40 334.6L996.70 337.4L997.00 335.3L997.30 337.5L997.60 335.4L997.90 338.0L998.20 336.2L998.50 338.4L998.80 335.9L999.10 337.9L999.40 335.6L999.70 337.9L1000.00 335.4L1000.30 337.8L1000.60 335.9L1000.90 337.8L1001.20 335.4L1001.50 337.4L1001.80 335.8L1002.10 337.4L1002.40 335.6L1002.70 337.6L1003.00 335.8L1003.30 336.6L1003.60 334.4L1003.90 336.4L1004.20 334.7L1004.50 337.2L1004.80 334.4L1005.10 336.4L1005.40 334.2L1005.70 336.5L1006.00 334.4L1006.30 336.4L1006.60 335.3L1006.90 336.8L1007.20 335.8L1007.50 336.9L1007.80 334.6L1008.10 336.3L1008.40 334.9L1008.70 336.4L1009.00 334.8L1009.30 336.7L1009.60 335.1L1009.90 336.2L1010.20 335.0L1010.50 337.1L1010.80 334.5L1011.10 336.9L1011.40 335.1L1011.70 336.7L1012.00 334.8L1012.30 336.8L1012.60 334.6L1012.90 337.1L1013.20 335.4L1013.50 336.5L1013.80 335.3L1014.10 336.6L1014.40 334.8L1014.70 336.2L1015.00 334.6L1015.30 336.8L1015.60 334.6L1015.90 337.1L1016.20 335.1L1016.50 337.4L1016.80 335.7L1017.10 337.5L1017.40 335.6L1017.70 337.3L1018.00 335.7L1018.30 337.9L1018.60 336.5L1018.90 337.7L1019.20 335.9L1019.50 337.3L1019.80 335.1L1020.10 337.2L1020.40 334.8L1020.70 336.1L1021.00 335.0L1021.30 336.5L1021.60 335.4L1021.90 337.1L1022.20 335.7L1022.50 336.9L1022.80 334.8L1023.10 337.4L1023.40 335.0L1023.70 336.9L1024.00 335.1L1024.30 336.5L1024.60 334.4L1024.90 336.6L1025.20 335.0L1025.50 336.2L1025.80 334.7L1026.10 336.2L1026.40 334.3L1026.70 336.0L1027.00 334.3L1027.30 336.4L1027.60 335.3L1027.90 336.7L1028.20 335.4L1028.50 336.4L1028.80 335.3L1029.10 336.6L1029.40 334.2L1029.70 336.4L1030.00 334.5L1030.30 337.2L1030.60 335.3L1030.90 337.1L1031.20 335.0L1031.50 336.7L1031.80 334.7L1032.10 336.1L1032.40 334.8L1032.70 336.4L1033.00 334.1L1033.30 335.9L1033.60 334.5L1033.90 337.0L1034.20 335.1L1034.50 337.2L1034.80 335.9L1035.10 337.0L1035.40 335.4L1035.70 336.5L1036.00 335.4L1036.30 337.1L1036.60 335.1L1036.90 336.7L1037.20 335.2L1037.50 337.0L1037.80 335.3L1038.10 337.1L1038.40 334.9L1038.70 336.7L1039.00 335.0L1039.30 337.0L1039.60 335.5L1039.90 337.0L1040.20 335.4L1040.50 337.2L1040.80 334.8L1041.10 336.7L1041.40 335.2L1041.70 337.2L1042.00 335.5L1042.30 336.5L1042.60 335.2L1042.90 336.8L1043.20 334.7L1043.50 336.7L1043.80 334.8L1044.10 336.4L1044.40 334.7L1044.70 335.7L1045.00 334.5L1045.30 335.6L1045.60 333.8L1045.90 336.6L1046.20 335.0L1046.50 336.9L1046.80 334.9L1047.10 336.7L1047.40 334.6L1047.70 336.5L1048.00 334.3L1048.30 336.1L1048.60 333.8L1048.90 335.9L1049.20 333.6L1049.50 335.8L1049.80 334.3L1050.10 335.9L1050.40 334.1L1050.70 335.9L1051.00 334.5L1051.30 336.2L1051.60 334.2L1051.90 336.1L1052.20 334.3L1052.50 336.5L1052.80 334.0L1053.10 335.7L1053.40 334.1L1053.70 335.9L1054.00 334.2L1054.30 335.9L1054.60 334.5L1054.90 336.7L1055.20 334.3L1055.50 335.8L1055.80 334.5L1056.10 336.2L1056.40 334.6L1056.70 336.0L1057.00 335.1L1057.30 337.2L1057.60 335.5L1057.90 337.2L1058.20 335.2L1058.50 336.8L1058.80 335.1L1059.10 337.2L1059.40 335.0L1059.70 336.8L1060.00 334.9L1060.30 335.7L1060.60 334.1L1060.90 336.5L1061.20 335.0L1061.50 336.8L1061.80 334.4L1062.10 336.1L1062.40 334.4L1062.70 336.1L1063.00 334.2L1063.30 336.2L1063.60 334.2L1063.90 335.9L1064.20 334.3L1064.50 335.8L1064.80 334.9L1065.10 337.0L1065.40 335.0L1065.70 337.4L1066.00 335.4L1066.30 337.6L1066.60 335.2L1066.90 336.5L1067.20 334.8L1067.50 336.5L1067.80 334.6L1068.10 335.7L1068.40 334.4L1068.70 336.5L1069.00 335.0L1069.30 337.4L1069.60 335.6L1069.90 337.2L1070.20 334.8L1070.50 337.2L1070.80 334.7L1071.10 336.5L1071.40 334.6L1071.70 336.5L1072.00 335.0L1072.30 336.3L1072.60 334.7L1072.90 336.2L1073.20 334.8L1073.50 336.5L1073.80 335.5L1074.10 336.9L1074.40 335.0L1074.70 336.7L1075.00 335.5L1075.30 336.9L1075.60 335.0L1075.90 336.6L1076.20 334.9L1076.50 336.6L1076.80 334.3L1077.10 336.6L1077.40 334.5L1077.70 335.8L1078.00 334.6" stroke="#cbcb00" stroke-width="1.45" stroke-linejoin="round" fill="none"/><path d="M745.3 281.1V379.0M935.9 313.0V356.7M934.6 322.2V346.6M939.9 323.1V346.6M736 317.2V344.9M741 318.9V341.6" stroke="#cbcb00" stroke-width="1.1" fill="none"/>
<path d="M121.00 586.00h-7.9M1078.60 586.00h7.9M121.00 577.60h-3.9M1078.60 577.60h3.9M121.00 569.20h-3.9M1078.60 569.20h3.9M121.00 560.80h-3.9M1078.60 560.80h3.9M121.00 552.40h-3.9M1078.60 552.40h3.9M121.00 544.00h-3.9M1078.60 544.00h3.9M121.00 535.60h-3.9M1078.60 535.60h3.9M121.00 527.20h-3.9M1078.60 527.20h3.9M121.00 518.80h-3.9M1078.60 518.80h3.9M121.00 510.40h-3.9M1078.60 510.40h3.9M121.00 502.00h-7.9M1078.60 502.00h7.9M121.00 493.60h-3.9M1078.60 493.60h3.9M121.00 485.20h-3.9M1078.60 485.20h3.9M121.00 476.80h-3.9M1078.60 476.80h3.9M121.00 468.40h-3.9M1078.60 468.40h3.9M121.00 460.00h-3.9M1078.60 460.00h3.9M121.00 451.60h-3.9M1078.60 451.60h3.9M121.00 443.20h-3.9M1078.60 443.20h3.9M121.00 434.80h-3.9M1078.60 434.80h3.9M121.00 426.40h-3.9M1078.60 426.40h3.9M121.00 418.00h-7.9M1078.60 418.00h7.9M121.00 409.60h-3.9M1078.60 409.60h3.9M121.00 401.20h-3.9M1078.60 401.20h3.9M121.00 392.80h-3.9M1078.60 392.80h3.9M121.00 384.40h-3.9M1078.60 384.40h3.9M121.00 376.00h-3.9M1078.60 376.00h3.9M121.00 367.60h-3.9M1078.60 367.60h3.9M121.00 359.20h-3.9M1078.60 359.20h3.9M121.00 350.80h-3.9M1078.60 350.80h3.9M121.00 342.40h-3.9M1078.60 342.40h3.9M121.00 334.00h-7.9M1078.60 334.00h7.9M121.00 325.60h-3.9M1078.60 325.60h3.9M121.00 317.20h-3.9M1078.60 317.20h3.9M121.00 308.80h-3.9M1078.60 308.80h3.9M121.00 300.40h-3.9M1078.60 300.40h3.9M121.00 292.00h-3.9M1078.60 292.00h3.9M121.00 283.60h-3.9M1078.60 283.60h3.9M121.00 275.20h-3.9M1078.60 275.20h3.9M121.00 266.80h-3.9M1078.60 266.80h3.9M121.00 258.40h-3.9M1078.60 258.40h3.9M121.00 250.00h-7.9M1078.60 250.00h7.9M121.00 241.60h-3.9M1078.60 241.60h3.9M121.00 233.20h-3.9M1078.60 233.20h3.9M121.00 224.80h-3.9M1078.60 224.80h3.9M121.00 216.40h-3.9M1078.60 216.40h3.9M121.00 208.00h-3.9M1078.60 208.00h3.9M121.00 199.60h-3.9M1078.60 199.60h3.9M121.00 191.20h-3.9M1078.60 191.20h3.9M121.00 182.80h-3.9M1078.60 182.80h3.9M121.00 174.40h-3.9M1078.60 174.40h3.9M121.00 166.00h-7.9M1078.60 166.00h7.9M121.00 157.60h-3.9M1078.60 157.60h3.9M121.00 149.20h-3.9M1078.60 149.20h3.9M121.00 140.80h-3.9M1078.60 140.80h3.9M121.00 132.40h-3.9M1078.60 132.40h3.9M121.00 124.00h-3.9M1078.60 124.00h3.9M121.00 115.60h-3.9M1078.60 115.60h3.9M121.00 107.20h-3.9M1078.60 107.20h3.9M121.00 98.80h-3.9M1078.60 98.80h3.9M121.00 90.40h-3.9M1078.60 90.40h3.9M121.00 82.00h-7.9M1078.60 82.00h7.9M121.00 586.00v7.9M231.83 586.00v3.9M342.67 586.00v7.9M453.50 586.00v3.9M564.33 586.00v7.9M675.17 586.00v3.9M786.00 586.00v7.9M896.83 586.00v3.9M1007.67 586.00v7.9M121.00 82.00v-7.9M160.90 82.00v-3.9M200.80 82.00v-3.9M240.70 82.00v-7.9M280.60 82.00v-3.9M320.50 82.00v-3.9M360.40 82.00v-7.9M400.30 82.00v-3.9M440.20 82.00v-3.9M480.10 82.00v-7.9M520.00 82.00v-3.9M559.90 82.00v-3.9M599.80 82.00v-7.9M639.70 82.00v-3.9M679.60 82.00v-3.9M719.50 82.00v-7.9M759.40 82.00v-3.9M799.30 82.00v-3.9M839.20 82.00v-7.9M879.10 82.00v-3.9M919.00 82.00v-3.9M958.90 82.00v-7.9M998.80 82.00v-3.9M1038.70 82.00v-3.9M1078.60 82.00v-7.9" stroke="#000" stroke-width="0.62" fill="none"/>
<rect x="121.0" y="82.0" width="957.60" height="504.0" fill="none" stroke="#000" stroke-width="1.5"/>
<g font-size="19.44" text-anchor="end">
<text x="105" y="593.00">−300</text>
<text x="105" y="509.00">−200</text>
<text x="105" y="425.00">−100</text>
<text x="105" y="341.00">0</text>
<text x="105" y="257.00">100</text>
<text x="105" y="173.00">200</text>
<text x="105" y="89.00">300</text>
</g>
<g font-size="19.44" text-anchor="middle">
<text x="121.00" y="615.7">0</text>
<text x="342.67" y="615.7">20000</text>
<text x="564.33" y="615.7">40000</text>
<text x="786.00" y="615.7">60000</text>
<text x="1007.67" y="615.7">80000</text>
</g>
<g font-size="16.67">
<text transform="translate(123.80 72.4) rotate(-30)">00:00</text>
<text transform="translate(243.50 72.4) rotate(-30)">03:00</text>
<text transform="translate(363.20 72.4) rotate(-30)">06:00</text>
<text transform="translate(482.90 72.4) rotate(-30)">09:00</text>
<text transform="translate(602.60 72.4) rotate(-30)">12:00</text>
<text transform="translate(722.30 72.4) rotate(-30)">15:00</text>
<text transform="translate(842.00 72.4) rotate(-30)">18:00</text>
<text transform="translate(961.70 72.4) rotate(-30)">21:00</text>
<text transform="translate(1081.40 72.4) rotate(-30)">00:00</text>
</g>
<text x="599.80" y="654.4" font-size="25" text-anchor="middle">Time [s]</text>
<text transform="translate(41.3 333.50) rotate(-90)" font-size="25.2" text-anchor="middle">Signal [nm/s<tspan font-size="17.5" dy="-8.5">2</tspan><tspan dy="8.5">]</tspan></text>
<rect x="134" y="96.2" width="296.8" height="51.1" fill="#fff" stroke="#7a7a7a" stroke-width="0.75"/>
<path d="M163.6 109.5H208" stroke="#cbcb00" stroke-width="2.8" fill="none"/>
<path d="M163.6 133.4H208" stroke="#000" stroke-width="2.8" fill="none"/>
<g font-size="16.75">
<text x="223.4" y="115.2">GRAV ___BRES.low−pass</text>
<text x="223.4" y="139.1">GRAV ___BRES</text>
</g>
<text x="459.6" y="111.6" font-size="19.55">Start time 2023−09−20 00:00:00</text>
<text x="215.6" y="580.5" font-size="16.8">USGS: 2023−09−20 14:45:59 (M6.0) central East Pacific Rise −4.5 −105.8 (72724)</text>
</svg>
</body></html>
